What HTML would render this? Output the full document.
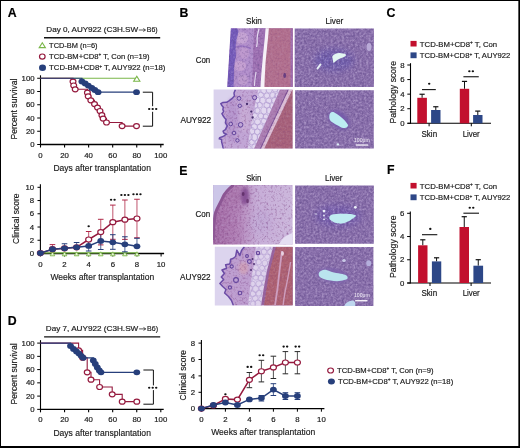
<!DOCTYPE html>
<html><head><meta charset="utf-8"><style>
html,body{margin:0;padding:0;background:#fff;}
body{width:520px;height:448px;overflow:hidden;position:relative;}
svg{position:absolute;left:0;top:0;filter:blur(0.3px);}
text{font-family:"Liberation Sans", sans-serif;stroke-width:0.18px;}
</style></head><body>
<svg width="520" height="448" viewBox="0 0 520 448">
<defs>
<filter id="dk" filterUnits="userSpaceOnUse" x="170" y="20" width="210" height="295" color-interpolation-filters="sRGB">
 <feTurbulence type="fractalNoise" baseFrequency="0.45" numOctaves="3" seed="4"/>
 <feColorMatrix type="matrix" values="0 0 0 0 0.37  0 0 0 0 0.28  0 0 0 0 0.53  1.7 0 0 0 -0.85"/>
 <feGaussianBlur stdDeviation="0.4"/>
</filter>
<filter id="lt" filterUnits="userSpaceOnUse" x="170" y="20" width="210" height="295" color-interpolation-filters="sRGB">
 <feTurbulence type="fractalNoise" baseFrequency="0.45" numOctaves="3" seed="4"/>
 <feColorMatrix type="matrix" values="0 0 0 0 0.76  0 0 0 0 0.69  0 0 0 0 0.85  -1.5 0 0 0 0.75"/>
 <feGaussianBlur stdDeviation="0.4"/>
</filter>
<filter id="dkp" filterUnits="userSpaceOnUse" x="170" y="20" width="210" height="295" color-interpolation-filters="sRGB">
 <feTurbulence type="fractalNoise" baseFrequency="0.45" numOctaves="3" seed="4"/>
 <feColorMatrix type="matrix" values="0 0 0 0 0.45  0 0 0 0 0.22  0 0 0 0 0.48  1.6 0 0 0 -0.8"/>
 <feGaussianBlur stdDeviation="0.4"/>
</filter>
<filter id="bl05" x="-50%" y="-50%" width="200%" height="200%" color-interpolation-filters="sRGB"><feGaussianBlur stdDeviation="0.4"/></filter>
<filter id="bl1" x="-50%" y="-50%" width="200%" height="200%" color-interpolation-filters="sRGB"><feGaussianBlur stdDeviation="0.7"/></filter>
<filter id="bl2" x="-50%" y="-50%" width="200%" height="200%" color-interpolation-filters="sRGB"><feGaussianBlur stdDeviation="1.4"/></filter>
<filter id="bl3" x="-50%" y="-50%" width="200%" height="200%" color-interpolation-filters="sRGB"><feGaussianBlur stdDeviation="3.5"/></filter>
</defs>
<rect x="0" y="0" width="520" height="448" fill="#fff"/>
<text x="7.80" y="17.00" font-size="12.3" font-weight="bold" fill="#000" stroke="#000" >A</text>
<text x="179.60" y="16.90" font-size="12.3" font-weight="bold" fill="#000" stroke="#000" >B</text>
<text x="386.40" y="17.20" font-size="12.3" font-weight="bold" fill="#000" stroke="#000" >C</text>
<text x="7.80" y="325.10" font-size="12.3" font-weight="bold" fill="#000" stroke="#000" >D</text>
<text x="179.20" y="174.70" font-size="12.3" font-weight="bold" fill="#000" stroke="#000" >E</text>
<text x="386.90" y="173.80" font-size="12.3" font-weight="bold" fill="#000" stroke="#000" >F</text>
<text x="46.30" y="32.40" font-size="8.1" textLength="91.73" lengthAdjust="spacingAndGlyphs" fill="#1a1a1a" stroke="#1a1a1a" >Day 0, AUY922 (C3H.SW</text>
<line x1="138.83" y1="30.00" x2="145.03" y2="30.00" stroke="#222" stroke-width="0.75" />
<path d="M143.23,28.50 L145.63,30.00 L143.23,31.50" fill="none" stroke="#222" stroke-width="0.75"/>
<text x="146.83" y="32.40" font-size="8.1" textLength="10.87" lengthAdjust="spacingAndGlyphs" fill="#1a1a1a" stroke="#1a1a1a" >B6)</text>
<line x1="44.00" y1="37.80" x2="160.20" y2="37.80" stroke="#111" stroke-width="1.4" />
<line x1="40.50" y1="75.30" x2="40.50" y2="145.00" stroke="#000" stroke-width="1.1" />
<line x1="40.00" y1="144.50" x2="163.70" y2="144.50" stroke="#000" stroke-width="1.3" />
<line x1="37.20" y1="78.25" x2="40.50" y2="78.25" stroke="#000" stroke-width="1.0" />
<text x="34.60" y="80.85" font-size="7.8" text-anchor="end" fill="#1a1a1a" stroke="#1a1a1a" >100</text>
<line x1="37.20" y1="91.50" x2="40.50" y2="91.50" stroke="#000" stroke-width="1.0" />
<text x="34.60" y="94.10" font-size="7.8" text-anchor="end" fill="#1a1a1a" stroke="#1a1a1a" >80</text>
<line x1="37.20" y1="104.75" x2="40.50" y2="104.75" stroke="#000" stroke-width="1.0" />
<text x="34.60" y="107.35" font-size="7.8" text-anchor="end" fill="#1a1a1a" stroke="#1a1a1a" >60</text>
<line x1="37.20" y1="118.00" x2="40.50" y2="118.00" stroke="#000" stroke-width="1.0" />
<text x="34.60" y="120.60" font-size="7.8" text-anchor="end" fill="#1a1a1a" stroke="#1a1a1a" >40</text>
<line x1="37.20" y1="131.25" x2="40.50" y2="131.25" stroke="#000" stroke-width="1.0" />
<text x="34.60" y="133.85" font-size="7.8" text-anchor="end" fill="#1a1a1a" stroke="#1a1a1a" >20</text>
<line x1="37.20" y1="144.50" x2="40.50" y2="144.50" stroke="#000" stroke-width="1.0" />
<text x="34.60" y="147.10" font-size="7.8" text-anchor="end" fill="#1a1a1a" stroke="#1a1a1a" >0</text>
<line x1="40.50" y1="144.50" x2="40.50" y2="147.50" stroke="#000" stroke-width="1.1" />
<text x="40.50" y="157.60" font-size="7.8" text-anchor="middle" fill="#1a1a1a" stroke="#1a1a1a" >0</text>
<line x1="64.56" y1="144.50" x2="64.56" y2="147.50" stroke="#000" stroke-width="1.1" />
<text x="64.56" y="157.60" font-size="7.8" text-anchor="middle" fill="#1a1a1a" stroke="#1a1a1a" >20</text>
<line x1="88.62" y1="144.50" x2="88.62" y2="147.50" stroke="#000" stroke-width="1.1" />
<text x="88.62" y="157.60" font-size="7.8" text-anchor="middle" fill="#1a1a1a" stroke="#1a1a1a" >40</text>
<line x1="112.68" y1="144.50" x2="112.68" y2="147.50" stroke="#000" stroke-width="1.1" />
<text x="112.68" y="157.60" font-size="7.8" text-anchor="middle" fill="#1a1a1a" stroke="#1a1a1a" >60</text>
<line x1="136.74" y1="144.50" x2="136.74" y2="147.50" stroke="#000" stroke-width="1.1" />
<text x="136.74" y="157.60" font-size="7.8" text-anchor="middle" fill="#1a1a1a" stroke="#1a1a1a" >80</text>
<line x1="160.80" y1="144.50" x2="160.80" y2="147.50" stroke="#000" stroke-width="1.1" />
<text x="160.80" y="157.60" font-size="7.8" text-anchor="middle" fill="#1a1a1a" stroke="#1a1a1a" >100</text>
<text x="53.40" y="171.20" font-size="9.9" textLength="97.50" lengthAdjust="spacingAndGlyphs" fill="#1a1a1a" stroke="#1a1a1a" >Days after transplantation</text>
<text x="16.60" y="109.10" font-size="9.9" text-anchor="middle" textLength="61.00" lengthAdjust="spacingAndGlyphs" fill="#1a1a1a" stroke="#1a1a1a" transform="rotate(-90 16.60 109.10)" >Percent survival</text>
<polygon points="39.20,47.60 45.40,47.60 42.30,42.80" fill="none" stroke="#7ab648" stroke-width="1.1"/>
<ellipse cx="42.30" cy="56.60" rx="2.8" ry="2.6" fill="#fff" stroke="#951a3e" stroke-width="1.2"/>
<ellipse cx="42.50" cy="67.70" rx="3.5" ry="3.2" fill="#273f7b" stroke="none" stroke-width="1.0"/>
<text x="49.10" y="47.80" font-size="8.1" textLength="48.50" lengthAdjust="spacingAndGlyphs" fill="#1a1a1a" stroke="#1a1a1a" >TCD-BM (n=6)</text>
<text x="49.10" y="58.90" font-size="8.1" textLength="100.40" lengthAdjust="spacingAndGlyphs" fill="#1a1a1a" stroke="#1a1a1a" >TCD-BM+CD8<tspan font-size="5" dy="-2.6">+</tspan><tspan dy="2.6"> </tspan>T, Con (n=19)</text>
<text x="49.10" y="70.30" font-size="8.1" textLength="116.30" lengthAdjust="spacingAndGlyphs" fill="#1a1a1a" stroke="#1a1a1a" >TCD-BM+CD8<tspan font-size="5" dy="-2.6">+</tspan><tspan dy="2.6"> </tspan>T, AUY922 (n=18)</text>
<line x1="40.50" y1="78.25" x2="136.80" y2="78.25" stroke="#7ab648" stroke-width="1.2" />
<polygon points="133.70,81.20 139.90,81.20 136.80,76.20" fill="#fff" stroke="#7ab648" stroke-width="1.1"/>
<polyline points="40.50,78.25 73.00,78.25 73.00,81.60 73.70,81.60 73.70,85.50 75.20,85.50 75.20,89.30 87.40,89.30 87.40,92.70 88.20,92.70 88.20,96.30 90.80,96.30 90.80,100.30 94.50,100.30 94.50,104.10 97.50,104.10 97.50,107.60 100.00,107.60 100.00,111.00 101.90,111.00 101.90,115.20 103.10,115.20 103.10,118.60 106.50,118.60 106.50,122.50 122.10,122.50 122.10,126.10 136.50,126.10" fill="none" stroke="#951a3e" stroke-width="1.1" stroke-linejoin="miter"/>
<ellipse cx="73.00" cy="81.60" rx="2.9" ry="2.5" fill="#fff" stroke="#951a3e" stroke-width="1.2"/>
<ellipse cx="73.70" cy="85.50" rx="2.9" ry="2.5" fill="#fff" stroke="#951a3e" stroke-width="1.2"/>
<ellipse cx="75.20" cy="89.30" rx="2.9" ry="2.5" fill="#fff" stroke="#951a3e" stroke-width="1.2"/>
<ellipse cx="87.40" cy="92.70" rx="2.9" ry="2.5" fill="#fff" stroke="#951a3e" stroke-width="1.2"/>
<ellipse cx="88.20" cy="96.30" rx="2.9" ry="2.5" fill="#fff" stroke="#951a3e" stroke-width="1.2"/>
<ellipse cx="90.80" cy="100.30" rx="2.9" ry="2.5" fill="#fff" stroke="#951a3e" stroke-width="1.2"/>
<ellipse cx="94.50" cy="104.10" rx="2.9" ry="2.5" fill="#fff" stroke="#951a3e" stroke-width="1.2"/>
<ellipse cx="97.50" cy="107.60" rx="2.9" ry="2.5" fill="#fff" stroke="#951a3e" stroke-width="1.2"/>
<ellipse cx="100.00" cy="111.00" rx="2.9" ry="2.5" fill="#fff" stroke="#951a3e" stroke-width="1.2"/>
<ellipse cx="101.90" cy="115.20" rx="2.9" ry="2.5" fill="#fff" stroke="#951a3e" stroke-width="1.2"/>
<ellipse cx="103.10" cy="118.60" rx="2.9" ry="2.5" fill="#fff" stroke="#951a3e" stroke-width="1.2"/>
<ellipse cx="106.50" cy="122.50" rx="2.9" ry="2.5" fill="#fff" stroke="#951a3e" stroke-width="1.2"/>
<ellipse cx="122.10" cy="126.10" rx="2.9" ry="2.5" fill="#fff" stroke="#951a3e" stroke-width="1.2"/>
<ellipse cx="136.50" cy="126.10" rx="2.9" ry="2.5" fill="#fff" stroke="#951a3e" stroke-width="1.2"/>
<polyline points="40.50,78.25 81.90,78.25 81.90,81.50 85.20,81.50 85.20,83.50 88.30,83.50 88.30,85.60 91.80,85.60 91.80,88.00 94.80,88.00 94.80,90.00 98.10,90.00 98.10,92.20 136.50,92.20" fill="none" stroke="#273f7b" stroke-width="1.2" stroke-linejoin="miter"/>
<ellipse cx="81.90" cy="81.50" rx="3.4" ry="2.9" fill="#273f7b" stroke="none" stroke-width="1.0"/>
<ellipse cx="85.20" cy="83.50" rx="3.4" ry="2.9" fill="#273f7b" stroke="none" stroke-width="1.0"/>
<ellipse cx="88.30" cy="85.60" rx="3.4" ry="2.9" fill="#273f7b" stroke="none" stroke-width="1.0"/>
<ellipse cx="91.80" cy="88.00" rx="3.4" ry="2.9" fill="#273f7b" stroke="none" stroke-width="1.0"/>
<ellipse cx="94.80" cy="90.00" rx="3.4" ry="2.9" fill="#273f7b" stroke="none" stroke-width="1.0"/>
<ellipse cx="98.10" cy="92.20" rx="3.4" ry="2.9" fill="#273f7b" stroke="none" stroke-width="1.0"/>
<ellipse cx="136.50" cy="92.20" rx="3.4" ry="2.9" fill="#273f7b" stroke="none" stroke-width="1.0"/>
<polyline points="142.80,92.20 152.60,92.20 152.60,106.20" fill="none" stroke="#111" stroke-width="1.0" stroke-linejoin="miter"/>
<polyline points="152.60,111.80 152.60,126.20 142.80,126.20" fill="none" stroke="#111" stroke-width="1.0" stroke-linejoin="miter"/>
<ellipse cx="149.20" cy="109.00" rx="1.2" ry="1.05" fill="#111"/>
<ellipse cx="152.70" cy="109.00" rx="1.2" ry="1.05" fill="#111"/>
<ellipse cx="156.20" cy="109.00" rx="1.2" ry="1.05" fill="#111"/>
<text x="45.80" y="331.30" font-size="8.1" textLength="92.47" lengthAdjust="spacingAndGlyphs" fill="#1a1a1a" stroke="#1a1a1a" >Day 7, AUY922 (C3H.SW</text>
<line x1="139.07" y1="328.90" x2="145.27" y2="328.90" stroke="#222" stroke-width="0.75" />
<path d="M143.47,327.40 L145.87,328.90 L143.47,330.40" fill="none" stroke="#222" stroke-width="0.75"/>
<text x="147.07" y="331.30" font-size="8.1" textLength="11.03" lengthAdjust="spacingAndGlyphs" fill="#1a1a1a" stroke="#1a1a1a" >B6)</text>
<line x1="44.10" y1="336.90" x2="160.20" y2="336.90" stroke="#111" stroke-width="1.4" />
<line x1="40.50" y1="340.15" x2="40.50" y2="409.85" stroke="#000" stroke-width="1.1" />
<line x1="40.00" y1="409.35" x2="163.70" y2="409.35" stroke="#000" stroke-width="1.3" />
<line x1="37.20" y1="343.10" x2="40.50" y2="343.10" stroke="#000" stroke-width="1.0" />
<text x="34.60" y="345.70" font-size="7.8" text-anchor="end" fill="#1a1a1a" stroke="#1a1a1a" >100</text>
<line x1="37.20" y1="356.35" x2="40.50" y2="356.35" stroke="#000" stroke-width="1.0" />
<text x="34.60" y="358.95" font-size="7.8" text-anchor="end" fill="#1a1a1a" stroke="#1a1a1a" >80</text>
<line x1="37.20" y1="369.60" x2="40.50" y2="369.60" stroke="#000" stroke-width="1.0" />
<text x="34.60" y="372.20" font-size="7.8" text-anchor="end" fill="#1a1a1a" stroke="#1a1a1a" >60</text>
<line x1="37.20" y1="382.85" x2="40.50" y2="382.85" stroke="#000" stroke-width="1.0" />
<text x="34.60" y="385.45" font-size="7.8" text-anchor="end" fill="#1a1a1a" stroke="#1a1a1a" >40</text>
<line x1="37.20" y1="396.10" x2="40.50" y2="396.10" stroke="#000" stroke-width="1.0" />
<text x="34.60" y="398.70" font-size="7.8" text-anchor="end" fill="#1a1a1a" stroke="#1a1a1a" >20</text>
<line x1="37.20" y1="409.35" x2="40.50" y2="409.35" stroke="#000" stroke-width="1.0" />
<text x="34.60" y="411.95" font-size="7.8" text-anchor="end" fill="#1a1a1a" stroke="#1a1a1a" >0</text>
<line x1="40.50" y1="409.35" x2="40.50" y2="412.35" stroke="#000" stroke-width="1.1" />
<text x="40.50" y="422.45" font-size="7.8" text-anchor="middle" fill="#1a1a1a" stroke="#1a1a1a" >0</text>
<line x1="64.56" y1="409.35" x2="64.56" y2="412.35" stroke="#000" stroke-width="1.1" />
<text x="64.56" y="422.45" font-size="7.8" text-anchor="middle" fill="#1a1a1a" stroke="#1a1a1a" >20</text>
<line x1="88.62" y1="409.35" x2="88.62" y2="412.35" stroke="#000" stroke-width="1.1" />
<text x="88.62" y="422.45" font-size="7.8" text-anchor="middle" fill="#1a1a1a" stroke="#1a1a1a" >40</text>
<line x1="112.68" y1="409.35" x2="112.68" y2="412.35" stroke="#000" stroke-width="1.1" />
<text x="112.68" y="422.45" font-size="7.8" text-anchor="middle" fill="#1a1a1a" stroke="#1a1a1a" >60</text>
<line x1="136.74" y1="409.35" x2="136.74" y2="412.35" stroke="#000" stroke-width="1.1" />
<text x="136.74" y="422.45" font-size="7.8" text-anchor="middle" fill="#1a1a1a" stroke="#1a1a1a" >80</text>
<line x1="160.80" y1="409.35" x2="160.80" y2="412.35" stroke="#000" stroke-width="1.1" />
<text x="160.80" y="422.45" font-size="7.8" text-anchor="middle" fill="#1a1a1a" stroke="#1a1a1a" >100</text>
<text x="53.40" y="436.05" font-size="9.9" textLength="97.50" lengthAdjust="spacingAndGlyphs" fill="#1a1a1a" stroke="#1a1a1a" >Days after transplantation</text>
<text x="16.60" y="373.95" font-size="9.9" text-anchor="middle" textLength="61.00" lengthAdjust="spacingAndGlyphs" fill="#1a1a1a" stroke="#1a1a1a" transform="rotate(-90 16.60 373.95)" >Percent survival</text>
<polyline points="40.50,343.10 78.60,343.10 78.60,350.41 82.60,350.41 82.60,357.72 87.20,357.72 87.20,372.34 91.00,372.34 91.00,379.71 99.60,379.71 99.60,387.02 112.20,387.02 112.20,394.33 122.20,394.33 122.20,401.64 136.80,401.64" fill="none" stroke="#951a3e" stroke-width="1.1" stroke-linejoin="miter"/>
<ellipse cx="78.60" cy="350.41" rx="2.9" ry="2.5" fill="#fff" stroke="#951a3e" stroke-width="1.2"/>
<ellipse cx="82.60" cy="357.72" rx="2.9" ry="2.5" fill="#fff" stroke="#951a3e" stroke-width="1.2"/>
<ellipse cx="87.20" cy="372.34" rx="2.9" ry="2.5" fill="#fff" stroke="#951a3e" stroke-width="1.2"/>
<ellipse cx="91.00" cy="379.71" rx="2.9" ry="2.5" fill="#fff" stroke="#951a3e" stroke-width="1.2"/>
<ellipse cx="99.60" cy="387.02" rx="2.9" ry="2.5" fill="#fff" stroke="#951a3e" stroke-width="1.2"/>
<ellipse cx="112.20" cy="394.33" rx="2.9" ry="2.5" fill="#fff" stroke="#951a3e" stroke-width="1.2"/>
<ellipse cx="122.20" cy="401.64" rx="2.9" ry="2.5" fill="#fff" stroke="#951a3e" stroke-width="1.2"/>
<ellipse cx="136.80" cy="401.64" rx="2.9" ry="2.5" fill="#fff" stroke="#951a3e" stroke-width="1.2"/>
<polyline points="40.50,343.10 70.50,343.10 70.50,346.00 73.50,346.00 73.50,349.00 76.50,349.00 76.50,351.50 79.00,351.50 79.00,353.60 81.20,353.60 81.20,355.80 83.20,355.80 83.20,357.80 93.30,357.80 93.30,360.50 95.30,360.50 95.30,364.00 97.30,364.00 97.30,367.50 99.30,367.50 99.30,370.50 101.00,370.50 101.00,372.30 136.80,372.30" fill="none" stroke="#273f7b" stroke-width="1.2" stroke-linejoin="miter"/>
<ellipse cx="70.50" cy="346.00" rx="3.4" ry="2.9" fill="#273f7b" stroke="none" stroke-width="1.0"/>
<ellipse cx="73.50" cy="349.00" rx="3.4" ry="2.9" fill="#273f7b" stroke="none" stroke-width="1.0"/>
<ellipse cx="76.50" cy="351.50" rx="3.4" ry="2.9" fill="#273f7b" stroke="none" stroke-width="1.0"/>
<ellipse cx="79.00" cy="353.60" rx="3.4" ry="2.9" fill="#273f7b" stroke="none" stroke-width="1.0"/>
<ellipse cx="81.20" cy="355.80" rx="3.4" ry="2.9" fill="#273f7b" stroke="none" stroke-width="1.0"/>
<ellipse cx="83.20" cy="357.80" rx="3.4" ry="2.9" fill="#273f7b" stroke="none" stroke-width="1.0"/>
<ellipse cx="93.30" cy="360.50" rx="3.4" ry="2.9" fill="#273f7b" stroke="none" stroke-width="1.0"/>
<ellipse cx="95.30" cy="364.00" rx="3.4" ry="2.9" fill="#273f7b" stroke="none" stroke-width="1.0"/>
<ellipse cx="97.30" cy="367.50" rx="3.4" ry="2.9" fill="#273f7b" stroke="none" stroke-width="1.0"/>
<ellipse cx="99.30" cy="370.50" rx="3.4" ry="2.9" fill="#273f7b" stroke="none" stroke-width="1.0"/>
<ellipse cx="101.00" cy="372.30" rx="3.4" ry="2.9" fill="#273f7b" stroke="none" stroke-width="1.0"/>
<ellipse cx="136.80" cy="372.30" rx="3.4" ry="2.9" fill="#273f7b" stroke="none" stroke-width="1.0"/>
<polyline points="143.40,370.00 153.40,370.00 153.40,385.40" fill="none" stroke="#111" stroke-width="1.0" stroke-linejoin="miter"/>
<polyline points="153.40,390.10 153.40,404.20 143.40,404.20" fill="none" stroke="#111" stroke-width="1.0" stroke-linejoin="miter"/>
<ellipse cx="149.20" cy="387.80" rx="1.2" ry="1.05" fill="#111"/>
<ellipse cx="152.70" cy="387.80" rx="1.2" ry="1.05" fill="#111"/>
<ellipse cx="156.20" cy="387.80" rx="1.2" ry="1.05" fill="#111"/>
<line x1="40.40" y1="184.30" x2="40.40" y2="254.00" stroke="#000" stroke-width="1.1" />
<line x1="39.90" y1="253.50" x2="164.10" y2="253.50" stroke="#000" stroke-width="1.3" />
<line x1="37.50" y1="253.50" x2="40.40" y2="253.50" stroke="#000" stroke-width="1.0" />
<text x="34.20" y="256.10" font-size="7.8" text-anchor="end" fill="#1a1a1a" stroke="#1a1a1a" >0</text>
<line x1="37.50" y1="240.26" x2="40.40" y2="240.26" stroke="#000" stroke-width="1.0" />
<text x="34.20" y="242.86" font-size="7.8" text-anchor="end" fill="#1a1a1a" stroke="#1a1a1a" >2</text>
<line x1="37.50" y1="227.02" x2="40.40" y2="227.02" stroke="#000" stroke-width="1.0" />
<text x="34.20" y="229.62" font-size="7.8" text-anchor="end" fill="#1a1a1a" stroke="#1a1a1a" >4</text>
<line x1="37.50" y1="213.78" x2="40.40" y2="213.78" stroke="#000" stroke-width="1.0" />
<text x="34.20" y="216.38" font-size="7.8" text-anchor="end" fill="#1a1a1a" stroke="#1a1a1a" >6</text>
<line x1="37.50" y1="200.54" x2="40.40" y2="200.54" stroke="#000" stroke-width="1.0" />
<text x="34.20" y="203.14" font-size="7.8" text-anchor="end" fill="#1a1a1a" stroke="#1a1a1a" >8</text>
<line x1="37.50" y1="187.30" x2="40.40" y2="187.30" stroke="#000" stroke-width="1.0" />
<text x="34.20" y="189.90" font-size="7.8" text-anchor="end" fill="#1a1a1a" stroke="#1a1a1a" >10</text>
<line x1="40.40" y1="253.50" x2="40.40" y2="256.50" stroke="#000" stroke-width="1.0" />
<text x="40.40" y="266.50" font-size="7.8" text-anchor="middle" fill="#1a1a1a" stroke="#1a1a1a" >0</text>
<line x1="64.54" y1="253.50" x2="64.54" y2="256.50" stroke="#000" stroke-width="1.0" />
<text x="64.54" y="266.50" font-size="7.8" text-anchor="middle" fill="#1a1a1a" stroke="#1a1a1a" >2</text>
<line x1="88.68" y1="253.50" x2="88.68" y2="256.50" stroke="#000" stroke-width="1.0" />
<text x="88.68" y="266.50" font-size="7.8" text-anchor="middle" fill="#1a1a1a" stroke="#1a1a1a" >4</text>
<line x1="112.82" y1="253.50" x2="112.82" y2="256.50" stroke="#000" stroke-width="1.0" />
<text x="112.82" y="266.50" font-size="7.8" text-anchor="middle" fill="#1a1a1a" stroke="#1a1a1a" >6</text>
<line x1="136.96" y1="253.50" x2="136.96" y2="256.50" stroke="#000" stroke-width="1.0" />
<text x="136.96" y="266.50" font-size="7.8" text-anchor="middle" fill="#1a1a1a" stroke="#1a1a1a" >8</text>
<line x1="161.10" y1="253.50" x2="161.10" y2="256.50" stroke="#000" stroke-width="1.0" />
<text x="161.10" y="266.50" font-size="7.8" text-anchor="middle" fill="#1a1a1a" stroke="#1a1a1a" >10</text>
<text x="50.40" y="279.90" font-size="9.9" textLength="103.80" lengthAdjust="spacingAndGlyphs" fill="#1a1a1a" stroke="#1a1a1a" >Weeks after transplantation</text>
<text x="19.20" y="218.65" font-size="9.9" text-anchor="middle" textLength="50.50" lengthAdjust="spacingAndGlyphs" fill="#1a1a1a" stroke="#1a1a1a" transform="rotate(-90 19.20 218.65)" >Clinical score</text>
<line x1="40.40" y1="252.90" x2="136.96" y2="252.90" stroke="#7ab648" stroke-width="1.3" />
<polygon points="50.17,255.80 54.77,255.80 52.47,251.80" fill="#e8f4d8" stroke="#7ab648" stroke-width="0.9"/>
<polygon points="62.24,255.80 66.84,255.80 64.54,251.80" fill="#e8f4d8" stroke="#7ab648" stroke-width="0.9"/>
<polygon points="74.31,255.80 78.91,255.80 76.61,251.80" fill="#e8f4d8" stroke="#7ab648" stroke-width="0.9"/>
<polygon points="86.38,255.80 90.98,255.80 88.68,251.80" fill="#e8f4d8" stroke="#7ab648" stroke-width="0.9"/>
<polygon points="98.45,255.80 103.05,255.80 100.75,251.80" fill="#e8f4d8" stroke="#7ab648" stroke-width="0.9"/>
<polygon points="110.52,255.80 115.12,255.80 112.82,251.80" fill="#e8f4d8" stroke="#7ab648" stroke-width="0.9"/>
<polygon points="122.59,255.80 127.19,255.80 124.89,251.80" fill="#e8f4d8" stroke="#7ab648" stroke-width="0.9"/>
<polygon points="134.66,255.80 139.26,255.80 136.96,251.80" fill="#e8f4d8" stroke="#7ab648" stroke-width="0.9"/>
<line x1="52.47" y1="249.20" x2="52.47" y2="244.60" stroke="#b02848" stroke-width="0.8" />
<line x1="49.67" y1="244.60" x2="55.27" y2="244.60" stroke="#b02848" stroke-width="1.0" />
<line x1="88.68" y1="239.50" x2="88.68" y2="231.50" stroke="#b02848" stroke-width="0.8" />
<line x1="85.88" y1="231.50" x2="91.48" y2="231.50" stroke="#b02848" stroke-width="1.0" />
<line x1="88.68" y1="239.50" x2="88.68" y2="247.50" stroke="#b02848" stroke-width="0.8" />
<line x1="85.88" y1="247.50" x2="91.48" y2="247.50" stroke="#b02848" stroke-width="1.0" />
<line x1="100.75" y1="232.10" x2="100.75" y2="219.30" stroke="#b02848" stroke-width="0.8" />
<line x1="97.95" y1="219.30" x2="103.55" y2="219.30" stroke="#b02848" stroke-width="1.0" />
<line x1="100.75" y1="232.10" x2="100.75" y2="244.90" stroke="#b02848" stroke-width="0.8" />
<line x1="97.95" y1="244.90" x2="103.55" y2="244.90" stroke="#b02848" stroke-width="1.0" />
<line x1="112.82" y1="222.20" x2="112.82" y2="205.10" stroke="#b02848" stroke-width="0.8" />
<line x1="110.02" y1="205.10" x2="115.62" y2="205.10" stroke="#b02848" stroke-width="1.0" />
<line x1="112.82" y1="222.20" x2="112.82" y2="239.30" stroke="#b02848" stroke-width="0.8" />
<line x1="110.02" y1="239.30" x2="115.62" y2="239.30" stroke="#b02848" stroke-width="1.0" />
<line x1="124.89" y1="219.70" x2="124.89" y2="200.00" stroke="#b02848" stroke-width="0.8" />
<line x1="122.09" y1="200.00" x2="127.69" y2="200.00" stroke="#b02848" stroke-width="1.0" />
<line x1="124.89" y1="219.70" x2="124.89" y2="239.40" stroke="#b02848" stroke-width="0.8" />
<line x1="122.09" y1="239.40" x2="127.69" y2="239.40" stroke="#b02848" stroke-width="1.0" />
<line x1="136.96" y1="218.50" x2="136.96" y2="199.25" stroke="#b02848" stroke-width="0.8" />
<line x1="134.16" y1="199.25" x2="139.76" y2="199.25" stroke="#b02848" stroke-width="1.0" />
<line x1="136.96" y1="218.50" x2="136.96" y2="237.75" stroke="#b02848" stroke-width="0.8" />
<line x1="134.16" y1="237.75" x2="139.76" y2="237.75" stroke="#b02848" stroke-width="1.0" />
<line x1="64.54" y1="248.30" x2="64.54" y2="243.75" stroke="#273f7b" stroke-width="0.8" />
<line x1="61.74" y1="243.75" x2="67.34" y2="243.75" stroke="#273f7b" stroke-width="1.0" />
<line x1="76.61" y1="247.30" x2="76.61" y2="242.50" stroke="#273f7b" stroke-width="0.8" />
<line x1="73.81" y1="242.50" x2="79.41" y2="242.50" stroke="#273f7b" stroke-width="1.0" />
<line x1="88.68" y1="245.90" x2="88.68" y2="240.80" stroke="#273f7b" stroke-width="0.8" />
<line x1="85.88" y1="240.80" x2="91.48" y2="240.80" stroke="#273f7b" stroke-width="1.0" />
<line x1="88.68" y1="245.90" x2="88.68" y2="251.00" stroke="#273f7b" stroke-width="0.8" />
<line x1="85.88" y1="251.00" x2="91.48" y2="251.00" stroke="#273f7b" stroke-width="1.0" />
<line x1="100.75" y1="240.90" x2="100.75" y2="232.30" stroke="#273f7b" stroke-width="0.8" />
<line x1="97.95" y1="232.30" x2="103.55" y2="232.30" stroke="#273f7b" stroke-width="1.0" />
<line x1="100.75" y1="240.90" x2="100.75" y2="249.50" stroke="#273f7b" stroke-width="0.8" />
<line x1="97.95" y1="249.50" x2="103.55" y2="249.50" stroke="#273f7b" stroke-width="1.0" />
<line x1="112.82" y1="242.30" x2="112.82" y2="234.70" stroke="#273f7b" stroke-width="0.8" />
<line x1="110.02" y1="234.70" x2="115.62" y2="234.70" stroke="#273f7b" stroke-width="1.0" />
<line x1="112.82" y1="242.30" x2="112.82" y2="249.30" stroke="#273f7b" stroke-width="0.8" />
<line x1="110.02" y1="249.30" x2="115.62" y2="249.30" stroke="#273f7b" stroke-width="1.0" />
<line x1="124.89" y1="244.30" x2="124.89" y2="236.75" stroke="#273f7b" stroke-width="0.8" />
<line x1="122.09" y1="236.75" x2="127.69" y2="236.75" stroke="#273f7b" stroke-width="1.0" />
<line x1="124.89" y1="244.30" x2="124.89" y2="251.80" stroke="#273f7b" stroke-width="0.8" />
<line x1="122.09" y1="251.80" x2="127.69" y2="251.80" stroke="#273f7b" stroke-width="1.0" />
<line x1="136.96" y1="246.30" x2="136.96" y2="238.30" stroke="#273f7b" stroke-width="0.8" />
<line x1="134.16" y1="238.30" x2="139.76" y2="238.30" stroke="#273f7b" stroke-width="1.0" />
<polyline points="40.40,253.10 52.47,249.20 64.54,248.30 76.61,247.30 88.68,239.50 100.75,232.10 112.82,222.20 124.89,219.70 136.96,218.50" fill="none" stroke="#951a3e" stroke-width="1.5" stroke-linejoin="miter"/>
<ellipse cx="40.40" cy="253.10" rx="3.0" ry="2.5" fill="#fff" stroke="#951a3e" stroke-width="1.2"/>
<ellipse cx="52.47" cy="249.20" rx="3.0" ry="2.5" fill="#fff" stroke="#951a3e" stroke-width="1.2"/>
<ellipse cx="64.54" cy="248.30" rx="3.0" ry="2.5" fill="#fff" stroke="#951a3e" stroke-width="1.2"/>
<ellipse cx="76.61" cy="247.30" rx="3.0" ry="2.5" fill="#fff" stroke="#951a3e" stroke-width="1.2"/>
<ellipse cx="88.68" cy="239.50" rx="3.0" ry="2.5" fill="#fff" stroke="#951a3e" stroke-width="1.2"/>
<ellipse cx="100.75" cy="232.10" rx="3.0" ry="2.5" fill="#fff" stroke="#951a3e" stroke-width="1.2"/>
<ellipse cx="112.82" cy="222.20" rx="3.0" ry="2.5" fill="#fff" stroke="#951a3e" stroke-width="1.2"/>
<ellipse cx="124.89" cy="219.70" rx="3.0" ry="2.5" fill="#fff" stroke="#951a3e" stroke-width="1.2"/>
<ellipse cx="136.96" cy="218.50" rx="3.0" ry="2.5" fill="#fff" stroke="#951a3e" stroke-width="1.2"/>
<polyline points="40.40,253.10 52.47,249.20 64.54,248.30 76.61,247.30 88.68,245.90 100.75,240.90 112.82,242.30 124.89,244.30 136.96,246.30" fill="none" stroke="#273f7b" stroke-width="1.5" stroke-linejoin="miter"/>
<ellipse cx="40.40" cy="253.10" rx="3.4" ry="2.9" fill="#273f7b" stroke="none" stroke-width="1.0"/>
<ellipse cx="52.47" cy="249.20" rx="3.4" ry="2.9" fill="#273f7b" stroke="none" stroke-width="1.0"/>
<ellipse cx="64.54" cy="248.30" rx="3.4" ry="2.9" fill="#273f7b" stroke="none" stroke-width="1.0"/>
<ellipse cx="76.61" cy="247.30" rx="3.4" ry="2.9" fill="#273f7b" stroke="none" stroke-width="1.0"/>
<ellipse cx="88.68" cy="245.90" rx="3.4" ry="2.9" fill="#273f7b" stroke="none" stroke-width="1.0"/>
<ellipse cx="100.75" cy="240.90" rx="3.4" ry="2.9" fill="#273f7b" stroke="none" stroke-width="1.0"/>
<ellipse cx="112.82" cy="242.30" rx="3.4" ry="2.9" fill="#273f7b" stroke="none" stroke-width="1.0"/>
<ellipse cx="124.89" cy="244.30" rx="3.4" ry="2.9" fill="#273f7b" stroke="none" stroke-width="1.0"/>
<ellipse cx="136.96" cy="246.30" rx="3.4" ry="2.9" fill="#273f7b" stroke="none" stroke-width="1.0"/>
<ellipse cx="88.68" cy="226.30" rx="1.2" ry="1.05" fill="#111"/>
<ellipse cx="111.07" cy="199.70" rx="1.2" ry="1.05" fill="#111"/>
<ellipse cx="114.57" cy="199.70" rx="1.2" ry="1.05" fill="#111"/>
<ellipse cx="121.39" cy="195.00" rx="1.2" ry="1.05" fill="#111"/>
<ellipse cx="124.89" cy="195.00" rx="1.2" ry="1.05" fill="#111"/>
<ellipse cx="128.39" cy="195.00" rx="1.2" ry="1.05" fill="#111"/>
<ellipse cx="133.46" cy="194.30" rx="1.2" ry="1.05" fill="#111"/>
<ellipse cx="136.96" cy="194.30" rx="1.2" ry="1.05" fill="#111"/>
<ellipse cx="140.46" cy="194.30" rx="1.2" ry="1.05" fill="#111"/>
<line x1="201.40" y1="340.10" x2="201.40" y2="409.20" stroke="#000" stroke-width="1.1" />
<line x1="200.90" y1="408.70" x2="324.40" y2="408.70" stroke="#000" stroke-width="1.3" />
<line x1="198.50" y1="408.70" x2="201.40" y2="408.70" stroke="#000" stroke-width="1.0" />
<text x="195.20" y="411.30" font-size="7.8" text-anchor="end" fill="#1a1a1a" stroke="#1a1a1a" >0</text>
<line x1="198.50" y1="392.30" x2="201.40" y2="392.30" stroke="#000" stroke-width="1.0" />
<text x="195.20" y="394.90" font-size="7.8" text-anchor="end" fill="#1a1a1a" stroke="#1a1a1a" >2</text>
<line x1="198.50" y1="375.90" x2="201.40" y2="375.90" stroke="#000" stroke-width="1.0" />
<text x="195.20" y="378.50" font-size="7.8" text-anchor="end" fill="#1a1a1a" stroke="#1a1a1a" >4</text>
<line x1="198.50" y1="359.50" x2="201.40" y2="359.50" stroke="#000" stroke-width="1.0" />
<text x="195.20" y="362.10" font-size="7.8" text-anchor="end" fill="#1a1a1a" stroke="#1a1a1a" >6</text>
<line x1="198.50" y1="343.10" x2="201.40" y2="343.10" stroke="#000" stroke-width="1.0" />
<text x="195.20" y="345.70" font-size="7.8" text-anchor="end" fill="#1a1a1a" stroke="#1a1a1a" >8</text>
<line x1="201.40" y1="408.70" x2="201.40" y2="411.70" stroke="#000" stroke-width="1.0" />
<text x="201.40" y="422.20" font-size="7.8" text-anchor="middle" fill="#1a1a1a" stroke="#1a1a1a" >0</text>
<line x1="225.40" y1="408.70" x2="225.40" y2="411.70" stroke="#000" stroke-width="1.0" />
<text x="225.40" y="422.20" font-size="7.8" text-anchor="middle" fill="#1a1a1a" stroke="#1a1a1a" >2</text>
<line x1="249.40" y1="408.70" x2="249.40" y2="411.70" stroke="#000" stroke-width="1.0" />
<text x="249.40" y="422.20" font-size="7.8" text-anchor="middle" fill="#1a1a1a" stroke="#1a1a1a" >4</text>
<line x1="273.40" y1="408.70" x2="273.40" y2="411.70" stroke="#000" stroke-width="1.0" />
<text x="273.40" y="422.20" font-size="7.8" text-anchor="middle" fill="#1a1a1a" stroke="#1a1a1a" >6</text>
<line x1="297.40" y1="408.70" x2="297.40" y2="411.70" stroke="#000" stroke-width="1.0" />
<text x="297.40" y="422.20" font-size="7.8" text-anchor="middle" fill="#1a1a1a" stroke="#1a1a1a" >8</text>
<line x1="321.40" y1="408.70" x2="321.40" y2="411.70" stroke="#000" stroke-width="1.0" />
<text x="321.40" y="422.20" font-size="7.8" text-anchor="middle" fill="#1a1a1a" stroke="#1a1a1a" >10</text>
<text x="211.20" y="435.30" font-size="9.9" textLength="104.00" lengthAdjust="spacingAndGlyphs" fill="#1a1a1a" stroke="#1a1a1a" >Weeks after transplantation</text>
<text x="185.60" y="375.20" font-size="9.9" text-anchor="middle" textLength="50.50" lengthAdjust="spacingAndGlyphs" fill="#1a1a1a" stroke="#1a1a1a" transform="rotate(-90 185.60 375.20)" >Clinical score</text>
<line x1="249.40" y1="379.80" x2="249.40" y2="372.50" stroke="#2a2a2a" stroke-width="0.8" />
<line x1="246.60" y1="372.50" x2="252.20" y2="372.50" stroke="#2a2a2a" stroke-width="1.0" />
<line x1="249.40" y1="379.80" x2="249.40" y2="387.70" stroke="#2a2a2a" stroke-width="0.8" />
<line x1="246.60" y1="387.70" x2="252.20" y2="387.70" stroke="#2a2a2a" stroke-width="1.0" />
<line x1="261.40" y1="371.25" x2="261.40" y2="360.30" stroke="#2a2a2a" stroke-width="0.8" />
<line x1="258.60" y1="360.30" x2="264.20" y2="360.30" stroke="#2a2a2a" stroke-width="1.0" />
<line x1="261.40" y1="371.25" x2="261.40" y2="381.90" stroke="#2a2a2a" stroke-width="0.8" />
<line x1="258.60" y1="381.90" x2="264.20" y2="381.90" stroke="#2a2a2a" stroke-width="1.0" />
<line x1="273.40" y1="367.40" x2="273.40" y2="356.20" stroke="#2a2a2a" stroke-width="0.8" />
<line x1="270.60" y1="356.20" x2="276.20" y2="356.20" stroke="#2a2a2a" stroke-width="1.0" />
<line x1="273.40" y1="367.40" x2="273.40" y2="378.50" stroke="#2a2a2a" stroke-width="0.8" />
<line x1="270.60" y1="378.50" x2="276.20" y2="378.50" stroke="#2a2a2a" stroke-width="1.0" />
<line x1="285.40" y1="362.50" x2="285.40" y2="351.60" stroke="#2a2a2a" stroke-width="0.8" />
<line x1="282.60" y1="351.60" x2="288.20" y2="351.60" stroke="#2a2a2a" stroke-width="1.0" />
<line x1="285.40" y1="362.50" x2="285.40" y2="373.80" stroke="#2a2a2a" stroke-width="0.8" />
<line x1="282.60" y1="373.80" x2="288.20" y2="373.80" stroke="#2a2a2a" stroke-width="1.0" />
<line x1="297.40" y1="362.50" x2="297.40" y2="351.60" stroke="#2a2a2a" stroke-width="0.8" />
<line x1="294.60" y1="351.60" x2="300.20" y2="351.60" stroke="#2a2a2a" stroke-width="1.0" />
<line x1="297.40" y1="362.50" x2="297.40" y2="373.80" stroke="#2a2a2a" stroke-width="0.8" />
<line x1="294.60" y1="373.80" x2="300.20" y2="373.80" stroke="#2a2a2a" stroke-width="1.0" />
<line x1="261.40" y1="398.10" x2="261.40" y2="395.50" stroke="#273f7b" stroke-width="0.8" />
<line x1="258.60" y1="395.50" x2="264.20" y2="395.50" stroke="#273f7b" stroke-width="1.0" />
<line x1="261.40" y1="398.10" x2="261.40" y2="401.00" stroke="#273f7b" stroke-width="0.8" />
<line x1="258.60" y1="401.00" x2="264.20" y2="401.00" stroke="#273f7b" stroke-width="1.0" />
<line x1="273.40" y1="389.60" x2="273.40" y2="383.70" stroke="#273f7b" stroke-width="0.8" />
<line x1="270.60" y1="383.70" x2="276.20" y2="383.70" stroke="#273f7b" stroke-width="1.0" />
<line x1="273.40" y1="389.60" x2="273.40" y2="395.50" stroke="#273f7b" stroke-width="0.8" />
<line x1="270.60" y1="395.50" x2="276.20" y2="395.50" stroke="#273f7b" stroke-width="1.0" />
<line x1="285.40" y1="396.00" x2="285.40" y2="392.70" stroke="#273f7b" stroke-width="0.8" />
<line x1="282.60" y1="392.70" x2="288.20" y2="392.70" stroke="#273f7b" stroke-width="1.0" />
<line x1="285.40" y1="396.00" x2="285.40" y2="399.50" stroke="#273f7b" stroke-width="0.8" />
<line x1="282.60" y1="399.50" x2="288.20" y2="399.50" stroke="#273f7b" stroke-width="1.0" />
<line x1="297.40" y1="396.00" x2="297.40" y2="392.70" stroke="#273f7b" stroke-width="0.8" />
<line x1="294.60" y1="392.70" x2="300.20" y2="392.70" stroke="#273f7b" stroke-width="1.0" />
<line x1="297.40" y1="396.00" x2="297.40" y2="399.50" stroke="#273f7b" stroke-width="0.8" />
<line x1="294.60" y1="399.50" x2="300.20" y2="399.50" stroke="#273f7b" stroke-width="1.0" />
<polyline points="201.40,408.60 213.40,405.50 225.40,398.90 237.40,399.60 249.40,379.80 261.40,371.25 273.40,367.40 285.40,362.50 297.40,362.50" fill="none" stroke="#951a3e" stroke-width="1.5" stroke-linejoin="miter"/>
<ellipse cx="201.40" cy="408.60" rx="3.0" ry="2.5" fill="#fff" stroke="#951a3e" stroke-width="1.2"/>
<ellipse cx="213.40" cy="405.50" rx="3.0" ry="2.5" fill="#fff" stroke="#951a3e" stroke-width="1.2"/>
<ellipse cx="225.40" cy="398.90" rx="3.0" ry="2.5" fill="#fff" stroke="#951a3e" stroke-width="1.2"/>
<ellipse cx="237.40" cy="399.60" rx="3.0" ry="2.5" fill="#fff" stroke="#951a3e" stroke-width="1.2"/>
<ellipse cx="249.40" cy="379.80" rx="3.0" ry="2.5" fill="#fff" stroke="#951a3e" stroke-width="1.2"/>
<ellipse cx="261.40" cy="371.25" rx="3.0" ry="2.5" fill="#fff" stroke="#951a3e" stroke-width="1.2"/>
<ellipse cx="273.40" cy="367.40" rx="3.0" ry="2.5" fill="#fff" stroke="#951a3e" stroke-width="1.2"/>
<ellipse cx="285.40" cy="362.50" rx="3.0" ry="2.5" fill="#fff" stroke="#951a3e" stroke-width="1.2"/>
<ellipse cx="297.40" cy="362.50" rx="3.0" ry="2.5" fill="#fff" stroke="#951a3e" stroke-width="1.2"/>
<polyline points="201.40,408.60 213.40,405.00 225.40,402.50 237.40,405.00 249.40,399.40 261.40,398.10 273.40,389.60 285.40,396.00 297.40,396.00" fill="none" stroke="#273f7b" stroke-width="1.5" stroke-linejoin="miter"/>
<ellipse cx="201.40" cy="408.60" rx="3.4" ry="2.9" fill="#273f7b" stroke="none" stroke-width="1.0"/>
<ellipse cx="213.40" cy="405.00" rx="3.4" ry="2.9" fill="#273f7b" stroke="none" stroke-width="1.0"/>
<ellipse cx="225.40" cy="402.50" rx="3.4" ry="2.9" fill="#273f7b" stroke="none" stroke-width="1.0"/>
<ellipse cx="237.40" cy="405.00" rx="3.4" ry="2.9" fill="#273f7b" stroke="none" stroke-width="1.0"/>
<ellipse cx="249.40" cy="399.40" rx="3.4" ry="2.9" fill="#273f7b" stroke="none" stroke-width="1.0"/>
<ellipse cx="261.40" cy="398.10" rx="3.4" ry="2.9" fill="#273f7b" stroke="none" stroke-width="1.0"/>
<ellipse cx="273.40" cy="389.60" rx="3.4" ry="2.9" fill="#273f7b" stroke="none" stroke-width="1.0"/>
<ellipse cx="285.40" cy="396.00" rx="3.4" ry="2.9" fill="#273f7b" stroke="none" stroke-width="1.0"/>
<ellipse cx="297.40" cy="396.00" rx="3.4" ry="2.9" fill="#273f7b" stroke="none" stroke-width="1.0"/>
<ellipse cx="225.40" cy="394.30" rx="1.2" ry="1.05" fill="#111"/>
<ellipse cx="247.65" cy="366.90" rx="1.2" ry="1.05" fill="#111"/>
<ellipse cx="251.15" cy="366.90" rx="1.2" ry="1.05" fill="#111"/>
<ellipse cx="259.65" cy="355.20" rx="1.2" ry="1.05" fill="#111"/>
<ellipse cx="263.15" cy="355.20" rx="1.2" ry="1.05" fill="#111"/>
<ellipse cx="283.65" cy="346.60" rx="1.2" ry="1.05" fill="#111"/>
<ellipse cx="287.15" cy="346.60" rx="1.2" ry="1.05" fill="#111"/>
<ellipse cx="295.65" cy="346.60" rx="1.2" ry="1.05" fill="#111"/>
<ellipse cx="299.15" cy="346.60" rx="1.2" ry="1.05" fill="#111"/>
<ellipse cx="330.60" cy="370.50" rx="2.9" ry="2.5" fill="#fff" stroke="#951a3e" stroke-width="1.2"/>
<ellipse cx="331.40" cy="381.50" rx="3.5" ry="3.0" fill="#273f7b" stroke="none" stroke-width="1.0"/>
<text x="337.00" y="372.60" font-size="8.1" textLength="96.50" lengthAdjust="spacingAndGlyphs" fill="#1a1a1a" stroke="#1a1a1a" >TCD-BM+CD8<tspan font-size="5" dy="-2.6">+</tspan><tspan dy="2.6"> </tspan>T, Con (n=9)</text>
<text x="338.00" y="383.60" font-size="8.1" textLength="115.20" lengthAdjust="spacingAndGlyphs" fill="#1a1a1a" stroke="#1a1a1a" >TCD-BM+CD8<tspan font-size="5" dy="-2.6">+</tspan><tspan dy="2.6"> </tspan>T, AUY922 (n=18)</text>
<line x1="410.50" y1="63.20" x2="410.50" y2="123.80" stroke="#000" stroke-width="1.1" />
<line x1="407.50" y1="123.30" x2="491.00" y2="123.30" stroke="#000" stroke-width="1.1" />
<line x1="407.30" y1="123.30" x2="410.50" y2="123.30" stroke="#000" stroke-width="1.0" />
<text x="404.50" y="125.90" font-size="7.8" text-anchor="end" fill="#1a1a1a" stroke="#1a1a1a" >0</text>
<line x1="407.30" y1="108.72" x2="410.50" y2="108.72" stroke="#000" stroke-width="1.0" />
<text x="404.50" y="111.32" font-size="7.8" text-anchor="end" fill="#1a1a1a" stroke="#1a1a1a" >2</text>
<line x1="407.30" y1="94.15" x2="410.50" y2="94.15" stroke="#000" stroke-width="1.0" />
<text x="404.50" y="96.75" font-size="7.8" text-anchor="end" fill="#1a1a1a" stroke="#1a1a1a" >4</text>
<line x1="407.30" y1="79.58" x2="410.50" y2="79.58" stroke="#000" stroke-width="1.0" />
<text x="404.50" y="82.17" font-size="7.8" text-anchor="end" fill="#1a1a1a" stroke="#1a1a1a" >6</text>
<line x1="407.30" y1="65.00" x2="410.50" y2="65.00" stroke="#000" stroke-width="1.0" />
<text x="404.50" y="67.60" font-size="7.8" text-anchor="end" fill="#1a1a1a" stroke="#1a1a1a" >8</text>
<line x1="429.10" y1="123.30" x2="429.10" y2="126.30" stroke="#000" stroke-width="1.0" />
<line x1="471.30" y1="123.30" x2="471.30" y2="126.30" stroke="#000" stroke-width="1.0" />
<text x="429.30" y="136.50" font-size="8.4" text-anchor="middle" textLength="15.60" lengthAdjust="spacingAndGlyphs" fill="#1a1a1a" stroke="#1a1a1a" >Skin</text>
<text x="471.20" y="136.50" font-size="8.4" text-anchor="middle" textLength="17.10" lengthAdjust="spacingAndGlyphs" fill="#1a1a1a" stroke="#1a1a1a" >Liver</text>
<line x1="422.10" y1="97.80" x2="422.10" y2="94.25" stroke="#111" stroke-width="1.0" />
<line x1="419.50" y1="94.25" x2="424.70" y2="94.25" stroke="#111" stroke-width="1.2" />
<rect x="417.30" y="97.80" width="9.60" height="25.50" fill="#c2102e"/>
<line x1="435.80" y1="110.00" x2="435.80" y2="106.75" stroke="#111" stroke-width="1.0" />
<line x1="433.20" y1="106.75" x2="438.40" y2="106.75" stroke="#111" stroke-width="1.2" />
<rect x="431.10" y="110.00" width="9.40" height="13.30" fill="#2d4787"/>
<line x1="464.50" y1="88.80" x2="464.50" y2="81.40" stroke="#111" stroke-width="1.0" />
<line x1="461.90" y1="81.40" x2="467.10" y2="81.40" stroke="#111" stroke-width="1.2" />
<rect x="459.80" y="88.80" width="9.40" height="34.50" fill="#c2102e"/>
<line x1="477.80" y1="115.00" x2="477.80" y2="111.10" stroke="#111" stroke-width="1.0" />
<line x1="475.20" y1="111.10" x2="480.40" y2="111.10" stroke="#111" stroke-width="1.2" />
<rect x="473.10" y="115.00" width="9.40" height="8.30" fill="#2d4787"/>
<line x1="422.00" y1="89.60" x2="435.80" y2="89.60" stroke="#111" stroke-width="1.1" />
<ellipse cx="429.20" cy="83.80" rx="1.2" ry="1.05" fill="#111"/>
<line x1="463.40" y1="76.75" x2="478.75" y2="76.75" stroke="#111" stroke-width="1.1" />
<ellipse cx="469.35" cy="71.30" rx="1.2" ry="1.05" fill="#111"/>
<ellipse cx="472.85" cy="71.30" rx="1.2" ry="1.05" fill="#111"/>
<text x="395.60" y="92.30" font-size="9.9" text-anchor="middle" textLength="62.60" lengthAdjust="spacingAndGlyphs" fill="#1a1a1a" stroke="#1a1a1a" transform="rotate(-90 395.60 92.30)" >Pathology score</text>
<rect x="410.50" y="40.90" width="6.10" height="5.60" fill="#c2102e"/>
<rect x="410.50" y="52.40" width="6.10" height="5.80" fill="#2d4787"/>
<text x="419.80" y="47.00" font-size="8.1" textLength="77.40" lengthAdjust="spacingAndGlyphs" fill="#1a1a1a" stroke="#1a1a1a" >TCD-BM+CD8<tspan font-size="5" dy="-2.6">+</tspan><tspan dy="2.6"> </tspan>T, Con</text>
<text x="419.80" y="58.30" font-size="8.1" textLength="90.60" lengthAdjust="spacingAndGlyphs" fill="#1a1a1a" stroke="#1a1a1a" >TCD-BM+CD8<tspan font-size="5" dy="-2.6">+</tspan><tspan dy="2.6"> </tspan>T, AUY922</text>
<line x1="410.30" y1="211.51" x2="410.30" y2="283.50" stroke="#000" stroke-width="1.1" />
<line x1="407.30" y1="283.00" x2="491.00" y2="283.00" stroke="#000" stroke-width="1.1" />
<line x1="407.10" y1="283.00" x2="410.30" y2="283.00" stroke="#000" stroke-width="1.0" />
<text x="404.30" y="285.60" font-size="7.8" text-anchor="end" fill="#1a1a1a" stroke="#1a1a1a" >0</text>
<line x1="407.10" y1="259.77" x2="410.30" y2="259.77" stroke="#000" stroke-width="1.0" />
<text x="404.30" y="262.37" font-size="7.8" text-anchor="end" fill="#1a1a1a" stroke="#1a1a1a" >2</text>
<line x1="407.10" y1="236.54" x2="410.30" y2="236.54" stroke="#000" stroke-width="1.0" />
<text x="404.30" y="239.14" font-size="7.8" text-anchor="end" fill="#1a1a1a" stroke="#1a1a1a" >4</text>
<line x1="407.10" y1="213.31" x2="410.30" y2="213.31" stroke="#000" stroke-width="1.0" />
<text x="404.30" y="215.91" font-size="7.8" text-anchor="end" fill="#1a1a1a" stroke="#1a1a1a" >6</text>
<line x1="430.00" y1="283.00" x2="430.00" y2="286.00" stroke="#000" stroke-width="1.0" />
<line x1="471.10" y1="283.00" x2="471.10" y2="286.00" stroke="#000" stroke-width="1.0" />
<text x="429.30" y="296.20" font-size="8.4" text-anchor="middle" textLength="15.60" lengthAdjust="spacingAndGlyphs" fill="#1a1a1a" stroke="#1a1a1a" >Skin</text>
<text x="471.20" y="296.20" font-size="8.4" text-anchor="middle" textLength="17.10" lengthAdjust="spacingAndGlyphs" fill="#1a1a1a" stroke="#1a1a1a" >Liver</text>
<line x1="422.80" y1="245.30" x2="422.80" y2="239.80" stroke="#111" stroke-width="1.0" />
<line x1="420.20" y1="239.80" x2="425.40" y2="239.80" stroke="#111" stroke-width="1.2" />
<rect x="418.10" y="245.30" width="9.40" height="37.70" fill="#c2102e"/>
<line x1="436.57" y1="261.40" x2="436.57" y2="257.80" stroke="#111" stroke-width="1.0" />
<line x1="433.97" y1="257.80" x2="439.18" y2="257.80" stroke="#111" stroke-width="1.2" />
<rect x="431.90" y="261.40" width="9.35" height="21.60" fill="#2d4787"/>
<line x1="464.25" y1="227.00" x2="464.25" y2="216.70" stroke="#111" stroke-width="1.0" />
<line x1="461.65" y1="216.70" x2="466.85" y2="216.70" stroke="#111" stroke-width="1.2" />
<rect x="459.50" y="227.00" width="9.50" height="56.00" fill="#c2102e"/>
<line x1="478.25" y1="265.70" x2="478.25" y2="259.70" stroke="#111" stroke-width="1.0" />
<line x1="475.65" y1="259.70" x2="480.85" y2="259.70" stroke="#111" stroke-width="1.2" />
<rect x="473.40" y="265.70" width="9.70" height="17.30" fill="#2d4787"/>
<line x1="422.00" y1="234.70" x2="437.30" y2="234.70" stroke="#111" stroke-width="1.1" />
<ellipse cx="430.30" cy="228.90" rx="1.2" ry="1.05" fill="#111"/>
<line x1="463.40" y1="213.20" x2="479.00" y2="213.20" stroke="#111" stroke-width="1.1" />
<ellipse cx="469.75" cy="207.80" rx="1.2" ry="1.05" fill="#111"/>
<ellipse cx="473.25" cy="207.80" rx="1.2" ry="1.05" fill="#111"/>
<text x="395.60" y="246.70" font-size="9.9" text-anchor="middle" textLength="62.60" lengthAdjust="spacingAndGlyphs" fill="#1a1a1a" stroke="#1a1a1a" transform="rotate(-90 395.60 246.70)" >Pathology score</text>
<rect x="410.50" y="182.90" width="6.10" height="5.60" fill="#c2102e"/>
<rect x="410.50" y="194.40" width="6.10" height="5.80" fill="#2d4787"/>
<text x="419.80" y="189.00" font-size="8.1" textLength="77.40" lengthAdjust="spacingAndGlyphs" fill="#1a1a1a" stroke="#1a1a1a" >TCD-BM+CD8<tspan font-size="5" dy="-2.6">+</tspan><tspan dy="2.6"> </tspan>T, Con</text>
<text x="419.80" y="200.30" font-size="8.1" textLength="90.60" lengthAdjust="spacingAndGlyphs" fill="#1a1a1a" stroke="#1a1a1a" >TCD-BM+CD8<tspan font-size="5" dy="-2.6">+</tspan><tspan dy="2.6"> </tspan>T, AUY922</text>
<text x="246.00" y="23.50" font-size="8.4" textLength="15.90" lengthAdjust="spacingAndGlyphs" fill="#1a1a1a" stroke="#1a1a1a" >Skin</text>
<text x="325.50" y="23.50" font-size="8.4" textLength="17.70" lengthAdjust="spacingAndGlyphs" fill="#1a1a1a" stroke="#1a1a1a" >Liver</text>
<text x="195.70" y="62.50" font-size="8.4" textLength="14.50" lengthAdjust="spacingAndGlyphs" fill="#1a1a1a" stroke="#1a1a1a" >Con</text>
<text x="180.40" y="122.70" font-size="8.4" textLength="30.80" lengthAdjust="spacingAndGlyphs" fill="#1a1a1a" stroke="#1a1a1a" >AUY922</text>
<text x="246.20" y="180.50" font-size="8.4" textLength="15.00" lengthAdjust="spacingAndGlyphs" fill="#1a1a1a" stroke="#1a1a1a" >Skin</text>
<text x="325.00" y="180.50" font-size="8.4" textLength="17.50" lengthAdjust="spacingAndGlyphs" fill="#1a1a1a" stroke="#1a1a1a" >Liver</text>
<text x="195.50" y="216.70" font-size="8.4" textLength="14.70" lengthAdjust="spacingAndGlyphs" fill="#1a1a1a" stroke="#1a1a1a" >Con</text>
<text x="180.00" y="279.80" font-size="8.4" textLength="30.60" lengthAdjust="spacingAndGlyphs" fill="#1a1a1a" stroke="#1a1a1a" >AUY922</text>
<clipPath id="cB1"><path d="M230.8,28.3 L292.7,28.3 L292.7,86.9 L227.2,86.9 Z"/></clipPath>
<clipPath id="cB1t0"><path d="M225.0,28.0 L264.0,28.0 L261.0,88.0 L225.0,88.0 Z"/></clipPath>
<clipPath id="cB1t1"><path d="M267.0,28.0 L296.0,28.0 L296.0,88.0 L264.0,88.0 Z"/></clipPath>
<g clip-path="url(#cB1)">
<rect x="225" y="28" width="70" height="60" fill="rgb(178,142,203)"/>
<g filter="url(#bl1)">
<ellipse cx="242" cy="38" rx="6" ry="6" fill="rgb(198,164,212)"/>
<ellipse cx="240" cy="66" rx="6" ry="5" fill="rgb(198,160,210)"/>
<ellipse cx="244" cy="53" rx="5" ry="6" fill="rgb(190,152,206)"/>
<ellipse cx="243" cy="80" rx="5" ry="5" fill="rgb(190,154,206)"/>
<path d="M236.5,47 C240,45.5 246,46 251,48.5" stroke="rgb(150,112,190)" stroke-width="1.6" fill="none"/>
</g>
<path d="M254.0,28.0 L266.0,28.0 L261.0,88.0 L252.0,88.0 Z" fill="rgb(158,112,178)" filter="url(#bl1)"/>
<path d="M267.0,28.0 L296.0,28.0 L296.0,88.0 L262.5,88.0 Z" fill="rgb(178,112,142)"/>
<rect x="290.6" y="28" width="3" height="60" fill="rgb(162,112,176)" filter="url(#bl05)"/>
<path d="M230.8,28.3 L237.0,28.3 L238.5,31.0 L237.5,36.0 L236.0,42.0 L235.6,50.0 L236.0,56.0 L234.6,62.0 L234.0,70.0 L233.8,80.0 L233.5,86.9 L227.2,86.9 Z" fill="rgb(116,90,186)" filter="url(#bl05)"/>
<g clip-path="url(#cB1t0)">
<rect x="170" y="20" width="210" height="295" filter="url(#dk)" opacity="0.7"/>
<rect x="170" y="20" width="210" height="295" filter="url(#lt)" opacity="0.55"/>
</g>
<g clip-path="url(#cB1t1)">
<rect x="170" y="20" width="210" height="295" filter="url(#dkp)" opacity="0.45"/>
<rect x="170" y="20" width="210" height="295" filter="url(#lt)" opacity="0.35"/>
</g>
<ellipse cx="284.7" cy="75.4" rx="1.4" ry="2.6" fill="rgb(105,62,128)" filter="url(#bl05)"/>
<path d="M259,28.5 C258,33 256.6,37 257.2,41 C257.6,43 257,45 256.5,47" stroke="rgb(228,218,240)" stroke-width="1.2" fill="none" filter="url(#bl05)"/>
<path d="M265.6,28 L268.9,28 C268,40 266.5,52 265.6,62 C265,72 264.6,80 264.4,88 L260.4,88 C261,78 261.6,70 262.4,62 C263.4,50 264.8,40 265.6,28 Z" fill="rgb(246,241,248)" filter="url(#bl05)"/>
<path d="M256,72 C255.2,77 254.6,81 254.4,86" stroke="rgb(224,214,238)" stroke-width="1.1" fill="none" filter="url(#bl05)"/>
</g>
<clipPath id="cB2"><path d="M213.6,89.6 L292.6,89.6 L292.6,148.5 L213.6,148.5 Z"/></clipPath>
<clipPath id="cB2t0"><path d="M235.4,89.6 L234.0,93.0 L234.4,95.9 L231.9,98.7 L229.0,100.9 L226.5,102.3 L222.6,102.6 L220.8,103.7 L221.9,105.5 L223.3,107.3 L222.9,109.4 L223.6,111.6 L221.9,113.7 L222.9,115.5 L224.7,118.0 L226.1,119.5 L225.4,122.8 L227.3,125.9 L225.4,129.7 L223.1,131.2 L223.9,133.1 L226.5,134.2 L223.1,136.5 L219.7,137.6 L219.3,138.8 L221.6,139.5 L221.6,141.8 L222.4,144.9 L223.1,147.9 L223.5,149.0 L250.0,149.0 L257.0,89.6 Z"/></clipPath>
<clipPath id="cB2t1"><path d="M280.0,89.6 L294.0,89.6 L294.0,149.0 L254.0,149.0 Z"/></clipPath>
<g clip-path="url(#cB2)">
<rect x="213" y="89" width="80" height="60" fill="rgb(218,210,237)"/>
<path d="M235.4,89.6 L234.0,93.0 L234.4,95.9 L231.9,98.7 L229.0,100.9 L226.5,102.3 L222.6,102.6 L220.8,103.7 L221.9,105.5 L223.3,107.3 L222.9,109.4 L223.6,111.6 L221.9,113.7 L222.9,115.5 L224.7,118.0 L226.1,119.5 L225.4,122.8 L227.3,125.9 L225.4,129.7 L223.1,131.2 L223.9,133.1 L226.5,134.2 L223.1,136.5 L219.7,137.6 L219.3,138.8 L221.6,139.5 L221.6,141.8 L222.4,144.9 L223.1,147.9 L223.5,149.0 L262.0,149.0 L292.0,89.6 Z" fill="rgb(194,166,214)"/>
<g filter="url(#bl2)"><ellipse cx="232" cy="120" rx="6" ry="22" fill="rgb(182,150,206)"/><ellipse cx="245" cy="118" rx="5" ry="14" fill="rgb(200,172,214)"/></g>
<path d="M258.5,89.6 L280.0,89.6 L254.0,149.0 L248.0,149.0 L250.0,130.0 L254.0,110.0 Z" fill="rgb(226,216,240)" filter="url(#bl05)"/>
<path d="M280.0,89.6 L287.5,89.6 L259.5,149.0 L254.0,149.0 Z" fill="rgb(172,126,178)" filter="url(#bl05)"/>
<path d="M287.5,89.6 L289.0,89.6 L261.0,149.0 L259.5,149.0 Z" fill="rgb(128,84,150)" filter="url(#bl05)"/>
<path d="M289.0,89.6 L292.4,89.6 L264.0,149.0 L261.0,149.0 Z" fill="rgb(222,192,214)" filter="url(#bl05)"/>
<path d="M292.4,89.6 L294.0,89.6 L294.0,149.0 L264.0,149.0 Z" fill="rgb(168,98,122)" filter="url(#bl05)"/>
<g clip-path="url(#cB2t0)">
<rect x="170" y="20" width="210" height="295" filter="url(#dkp)" opacity="0.7"/>
<rect x="170" y="20" width="210" height="295" filter="url(#lt)" opacity="0.5"/>
</g>
<g clip-path="url(#cB2t1)">
<rect x="170" y="20" width="210" height="295" filter="url(#dkp)" opacity="0.5"/>
<rect x="170" y="20" width="210" height="295" filter="url(#lt)" opacity="0.4"/>
</g>
<clipPath id="fmB2"><path d="M258.5,89.6 L280.0,89.6 L254.0,149.0 L248.0,149.0 L250.0,130.0 L254.0,110.0 Z"/></clipPath><path d="M243.2,90.3a3.0,3.0 0 1,0 6.0,0a3.0,3.0 0 1,0 -6.0,0 M249.4,90.3a3.1,3.1 0 1,0 6.1,0a3.1,3.1 0 1,0 -6.1,0 M253.9,90.0a3.1,3.1 0 1,0 6.1,0a3.1,3.1 0 1,0 -6.1,0 M261.0,90.6a2.7,2.7 0 1,0 5.3,0a2.7,2.7 0 1,0 -5.3,0 M266.3,89.6a2.9,2.9 0 1,0 5.7,0a2.9,2.9 0 1,0 -5.7,0 M272.4,89.3a2.7,2.7 0 1,0 5.4,0a2.7,2.7 0 1,0 -5.4,0 M277.5,90.6a3.0,3.0 0 1,0 6.0,0a3.0,3.0 0 1,0 -6.0,0 M245.8,95.6a2.7,2.7 0 1,0 5.3,0a2.7,2.7 0 1,0 -5.3,0 M252.3,94.7a2.6,2.6 0 1,0 5.2,0a2.6,2.6 0 1,0 -5.2,0 M258.3,94.8a2.7,2.7 0 1,0 5.4,0a2.7,2.7 0 1,0 -5.4,0 M264.2,95.7a2.7,2.7 0 1,0 5.5,0a2.7,2.7 0 1,0 -5.5,0 M269.8,95.3a2.9,2.9 0 1,0 5.9,0a2.9,2.9 0 1,0 -5.9,0 M274.5,95.8a2.9,2.9 0 1,0 5.9,0a2.9,2.9 0 1,0 -5.9,0 M243.9,101.0a2.7,2.7 0 1,0 5.5,0a2.7,2.7 0 1,0 -5.5,0 M248.9,99.9a2.7,2.7 0 1,0 5.3,0a2.7,2.7 0 1,0 -5.3,0 M254.1,100.1a2.9,2.9 0 1,0 5.8,0a2.9,2.9 0 1,0 -5.8,0 M259.9,100.6a2.8,2.8 0 1,0 5.5,0a2.8,2.8 0 1,0 -5.5,0 M266.1,100.8a2.8,2.8 0 1,0 5.7,0a2.8,2.8 0 1,0 -5.7,0 M271.8,100.4a3.0,3.0 0 1,0 5.9,0a3.0,3.0 0 1,0 -5.9,0 M277.6,101.1a2.6,2.6 0 1,0 5.2,0a2.6,2.6 0 1,0 -5.2,0 M246.6,106.1a2.6,2.6 0 1,0 5.2,0a2.6,2.6 0 1,0 -5.2,0 M252.2,105.4a2.9,2.9 0 1,0 5.8,0a2.9,2.9 0 1,0 -5.8,0 M257.1,105.0a2.7,2.7 0 1,0 5.4,0a2.7,2.7 0 1,0 -5.4,0 M264.0,105.2a3.0,3.0 0 1,0 6.0,0a3.0,3.0 0 1,0 -6.0,0 M269.9,106.2a2.8,2.8 0 1,0 5.5,0a2.8,2.8 0 1,0 -5.5,0 M274.7,105.6a3.0,3.0 0 1,0 6.0,0a3.0,3.0 0 1,0 -6.0,0 M242.5,111.1a3.0,3.0 0 1,0 6.0,0a3.0,3.0 0 1,0 -6.0,0 M249.2,110.2a3.1,3.1 0 1,0 6.1,0a3.1,3.1 0 1,0 -6.1,0 M254.1,110.6a2.9,2.9 0 1,0 5.8,0a2.9,2.9 0 1,0 -5.8,0 M260.9,110.6a3.1,3.1 0 1,0 6.1,0a3.1,3.1 0 1,0 -6.1,0 M266.5,110.5a2.8,2.8 0 1,0 5.5,0a2.8,2.8 0 1,0 -5.5,0 M271.9,110.2a2.7,2.7 0 1,0 5.3,0a2.7,2.7 0 1,0 -5.3,0 M278.4,111.5a2.7,2.7 0 1,0 5.4,0a2.7,2.7 0 1,0 -5.4,0 M245.4,116.7a2.9,2.9 0 1,0 5.7,0a2.9,2.9 0 1,0 -5.7,0 M251.7,115.6a2.9,2.9 0 1,0 5.8,0a2.9,2.9 0 1,0 -5.8,0 M258.1,115.9a2.8,2.8 0 1,0 5.6,0a2.8,2.8 0 1,0 -5.6,0 M263.1,116.6a2.6,2.6 0 1,0 5.2,0a2.6,2.6 0 1,0 -5.2,0 M269.4,116.5a2.7,2.7 0 1,0 5.3,0a2.7,2.7 0 1,0 -5.3,0 M275.3,116.6a2.9,2.9 0 1,0 5.8,0a2.9,2.9 0 1,0 -5.8,0 M243.6,120.6a2.8,2.8 0 1,0 5.6,0a2.8,2.8 0 1,0 -5.6,0 M248.6,121.7a2.7,2.7 0 1,0 5.5,0a2.7,2.7 0 1,0 -5.5,0 M254.5,121.9a3.0,3.0 0 1,0 6.1,0a3.0,3.0 0 1,0 -6.1,0 M261.2,121.1a2.8,2.8 0 1,0 5.7,0a2.8,2.8 0 1,0 -5.7,0 M266.8,121.2a2.7,2.7 0 1,0 5.5,0a2.7,2.7 0 1,0 -5.5,0 M272.1,120.7a2.8,2.8 0 1,0 5.6,0a2.8,2.8 0 1,0 -5.6,0 M278.6,121.8a2.9,2.9 0 1,0 5.8,0a2.9,2.9 0 1,0 -5.8,0 M246.3,126.2a2.6,2.6 0 1,0 5.3,0a2.6,2.6 0 1,0 -5.3,0 M251.3,126.8a3.0,3.0 0 1,0 6.1,0a3.0,3.0 0 1,0 -6.1,0 M257.3,126.8a3.0,3.0 0 1,0 6.0,0a3.0,3.0 0 1,0 -6.0,0 M263.6,126.6a3.0,3.0 0 1,0 6.0,0a3.0,3.0 0 1,0 -6.0,0 M269.2,126.7a2.7,2.7 0 1,0 5.5,0a2.7,2.7 0 1,0 -5.5,0 M274.9,126.8a2.9,2.9 0 1,0 5.9,0a2.9,2.9 0 1,0 -5.9,0 M242.8,132.2a2.9,2.9 0 1,0 5.8,0a2.9,2.9 0 1,0 -5.8,0 M249.0,130.9a2.9,2.9 0 1,0 5.7,0a2.9,2.9 0 1,0 -5.7,0 M254.4,131.8a2.8,2.8 0 1,0 5.7,0a2.8,2.8 0 1,0 -5.7,0 M260.8,131.8a3.0,3.0 0 1,0 6.0,0a3.0,3.0 0 1,0 -6.0,0 M266.0,131.8a3.0,3.0 0 1,0 5.9,0a3.0,3.0 0 1,0 -5.9,0 M272.4,131.4a3.0,3.0 0 1,0 6.0,0a3.0,3.0 0 1,0 -6.0,0 M278.2,131.9a3.1,3.1 0 1,0 6.2,0a3.1,3.1 0 1,0 -6.2,0 M246.7,136.8a2.9,2.9 0 1,0 5.7,0a2.9,2.9 0 1,0 -5.7,0 M251.2,137.3a3.1,3.1 0 1,0 6.1,0a3.1,3.1 0 1,0 -6.1,0 M257.5,137.1a3.0,3.0 0 1,0 5.9,0a3.0,3.0 0 1,0 -5.9,0 M263.6,136.3a3.0,3.0 0 1,0 6.0,0a3.0,3.0 0 1,0 -6.0,0 M269.4,137.0a2.8,2.8 0 1,0 5.6,0a2.8,2.8 0 1,0 -5.6,0 M275.2,137.2a2.9,2.9 0 1,0 5.8,0a2.9,2.9 0 1,0 -5.8,0 M243.6,141.3a2.7,2.7 0 1,0 5.4,0a2.7,2.7 0 1,0 -5.4,0 M249.0,142.2a2.7,2.7 0 1,0 5.4,0a2.7,2.7 0 1,0 -5.4,0 M255.2,142.2a2.6,2.6 0 1,0 5.2,0a2.6,2.6 0 1,0 -5.2,0 M260.7,141.6a2.6,2.6 0 1,0 5.3,0a2.6,2.6 0 1,0 -5.3,0 M266.0,141.7a2.7,2.7 0 1,0 5.4,0a2.7,2.7 0 1,0 -5.4,0 M271.7,141.3a2.8,2.8 0 1,0 5.7,0a2.8,2.8 0 1,0 -5.7,0 M277.7,142.2a2.9,2.9 0 1,0 5.8,0a2.9,2.9 0 1,0 -5.8,0 M245.9,147.8a2.6,2.6 0 1,0 5.2,0a2.6,2.6 0 1,0 -5.2,0 M251.8,146.9a2.8,2.8 0 1,0 5.6,0a2.8,2.8 0 1,0 -5.6,0 M257.2,147.7a2.8,2.8 0 1,0 5.6,0a2.8,2.8 0 1,0 -5.6,0 M263.0,147.4a2.6,2.6 0 1,0 5.3,0a2.6,2.6 0 1,0 -5.3,0 M269.3,147.0a2.9,2.9 0 1,0 5.8,0a2.9,2.9 0 1,0 -5.8,0 M275.7,147.6a2.8,2.8 0 1,0 5.6,0a2.8,2.8 0 1,0 -5.6,0" fill="none" stroke="rgb(176,154,210)" stroke-width="0.6" clip-path="url(#fmB2)"/>
<path d="M235.4,89.6 L234,93 L234.4,95.9 L231.9,98.7 L229,100.9 L226.5,102.3 L222.6,102.6 L220.8,103.7 L221.9,105.5 L223.3,107.3 L222.9,109.4 L223.6,111.6 L221.9,113.7 L222.9,115.5 L224.7,118 L226.1,119.5 L225.4,122.8 L227.3,125.9 L225.4,129.7 L223.1,131.2 L223.9,133.1 L226.5,134.2 L223.1,136.5 L219.7,137.6 L219.3,138.8 L221.6,139.5 L221.6,141.8 L222.4,144.9 L223.1,147.9 L223.5,149" fill="none" stroke="rgb(106,76,168)" stroke-width="1.5" stroke-linejoin="round"/>
<circle cx="239" cy="98.4" r="1.9" fill="rgb(192,166,214)" stroke="rgb(100,70,158)" stroke-width="1.0"/>
<circle cx="239.8" cy="105.8" r="1.7" fill="rgb(192,166,214)" stroke="rgb(100,70,158)" stroke-width="1.0"/>
<circle cx="240.6" cy="124.8" r="2.3" fill="rgb(192,166,214)" stroke="rgb(100,70,158)" stroke-width="1.0"/>
<circle cx="230.7" cy="124" r="1.8" fill="rgb(192,166,214)" stroke="rgb(100,70,158)" stroke-width="1.0"/>
<circle cx="234" cy="133" r="1.8" fill="rgb(192,166,214)" stroke="rgb(100,70,158)" stroke-width="1.0"/>
<circle cx="237.4" cy="140.4" r="1.7" fill="rgb(192,166,214)" stroke="rgb(100,70,158)" stroke-width="1.0"/>
<circle cx="254.6" cy="97.6" r="2.1" fill="rgb(192,166,214)" stroke="rgb(100,70,158)" stroke-width="1.0"/>
<circle cx="251.3" cy="111.6" r="1.15" fill="rgb(70,45,110)"/>
<circle cx="252.6" cy="117.5" r="1.15" fill="rgb(70,45,110)"/>
<circle cx="247" cy="104" r="1.15" fill="rgb(70,45,110)"/>
</g>
<clipPath id="cB3"><path d="M294.7,28.4 L373.9,28.4 L373.9,87.0 L294.7,87.0 Z"/></clipPath>
<g clip-path="url(#cB3)">
<rect x="294" y="28" width="81" height="60" fill="rgb(137,111,171)"/>
<g filter="url(#bl3)"><ellipse cx="334" cy="60" rx="20" ry="11" fill="rgb(112,94,172)"/></g>
<rect x="170" y="20" width="210" height="295" filter="url(#dk)" opacity="1.0"/>
<rect x="170" y="20" width="210" height="295" filter="url(#lt)" opacity="1.0"/>
<path d="M332.4,56.3 C332.8,55.4 333.9,54.5 335.1,54.0 C336.3,53.5 337.9,53.0 339.7,53.1 C341.5,53.2 345.0,53.8 345.8,54.4 C346.6,55.0 345.6,55.9 344.3,56.7 C343.0,57.5 339.7,58.6 338.2,59.4 C336.7,60.2 335.9,61.1 335.1,61.7 C334.3,62.3 333.9,63.2 333.5,62.8 C333.1,62.4 333.0,60.5 332.8,59.4 C332.6,58.3 332.0,57.2 332.4,56.3 Z" fill="rgb(226,246,242)" filter="url(#bl05)"/>
<path d="M317.4,68.6 L320.5,64.4" stroke="rgb(230,240,245)" stroke-width="1.8" stroke-linecap="round" filter="url(#bl05)"/>
<ellipse cx="369" cy="47" rx="2.5" ry="4" fill="rgb(185,170,215)" filter="url(#bl1)"/>
</g>
<clipPath id="cB4"><path d="M295.1,90.2 L373.8,90.2 L373.8,148.6 L295.1,148.6 Z"/></clipPath>
<g clip-path="url(#cB4)">
<rect x="294" y="89" width="81" height="61" fill="rgb(137,111,171)"/>
<rect x="170" y="20" width="210" height="295" filter="url(#dk)" opacity="1.0"/>
<rect x="170" y="20" width="210" height="295" filter="url(#lt)" opacity="1.0"/>
<g filter="url(#bl2)"><ellipse cx="339" cy="120" rx="12" ry="8" fill="rgb(118,92,170)" transform="rotate(38 339 120)"/></g>
<path d="M331.0,112.4 C331.8,112.0 332.9,111.8 334.4,112.4 C335.8,113.0 338.0,114.7 339.7,115.9 C341.4,117.2 342.9,118.5 344.3,119.9 C345.7,121.4 347.3,123.4 347.8,124.6 C348.3,125.8 348.0,126.3 347.2,126.9 C346.4,127.5 344.8,128.3 343.2,128.0 C341.6,127.7 339.2,126.2 337.3,125.2 C335.4,124.2 332.8,122.8 331.5,121.7 C330.2,120.6 329.8,120.0 329.5,118.8 C329.2,117.6 329.2,115.8 329.5,114.7 C329.8,113.6 330.2,112.8 331.0,112.4 Z" fill="rgb(188,236,242)" filter="url(#bl05)"/>
<circle cx="337.9" cy="144.4" r="1.2" fill="rgb(220,235,245)" filter="url(#bl05)"/>
</g>
<text x="361.85" y="142.4" font-size="6.2" text-anchor="middle" fill="#f4f0f8" textLength="15.6" lengthAdjust="spacingAndGlyphs">100&#956;m</text>
<rect x="355.8" y="144.4" width="12.4" height="1.3" fill="#f4f0f8"/>
<clipPath id="cE1"><path d="M213.1,185.0 L292.6,185.0 L292.6,244.6 L213.1,244.6 Z"/></clipPath>
<g clip-path="url(#cE1)">
<defs><linearGradient id="gE1" x1="0" y1="0" x2="1" y2="0"><stop offset="0" stop-color="rgb(162,106,164)"/><stop offset="0.3" stop-color="rgb(176,126,180)"/><stop offset="0.55" stop-color="rgb(200,174,216)"/><stop offset="1" stop-color="rgb(206,186,222)"/></linearGradient></defs>
<rect x="212" y="184" width="82" height="62" fill="url(#gE1)"/>
<g filter="url(#bl3)"><ellipse cx="236" cy="196" rx="9" ry="7" fill="rgb(170,118,172)"/><ellipse cx="262" cy="222" rx="10" ry="12" fill="rgb(194,170,214)"/></g>
<rect x="170" y="20" width="210" height="295" filter="url(#dkp)" opacity="0.75"/>
<rect x="170" y="20" width="210" height="295" filter="url(#lt)" opacity="0.6"/>
<path d="M212.0,184.0 L233.4,184.0 L229.5,187.5 L226.0,191.0 L223.8,195.0 L222.2,199.0 L219.8,203.0 L217.6,207.0 L215.6,211.6 L214.6,216.0 L214.0,222.6 L213.4,228.0 L212.5,236.0 L212.0,236.0 Z" fill="rgb(204,198,232)"/>
<path d="M233.6,184.8 C229,188.5 225,192 223,197 C221,202 218,206 215.8,212 C214.6,216 214,222 213.5,230 L213.2,240" stroke="rgb(140,86,148)" stroke-width="3" fill="none" filter="url(#bl05)"/>
<g filter="url(#bl2)"><ellipse cx="245" cy="196" rx="4" ry="9" fill="rgb(135,82,150)"/></g>
<g filter="url(#bl05)"><ellipse cx="243.2" cy="194" rx="1.4" ry="2" fill="rgb(100,50,110)"/><ellipse cx="247.5" cy="201" rx="1.3" ry="2.2" fill="rgb(110,60,120)"/></g>
<g filter="url(#bl1)"><path d="M279,245 C281,239 286,235 293,233 L293,245 Z" fill="rgb(228,222,242)"/></g>
</g>
<clipPath id="cE2"><path d="M295.1,185.4 L373.8,185.4 L373.8,243.8 L295.1,243.8 Z"/></clipPath>
<g clip-path="url(#cE2)">
<rect x="294" y="184" width="81" height="61" fill="rgb(137,111,171)"/>
<g filter="url(#bl3)"><ellipse cx="338" cy="216" rx="23" ry="11" fill="rgb(118,94,172)"/></g>
<rect x="170" y="20" width="210" height="295" filter="url(#dk)" opacity="1.0"/>
<rect x="170" y="20" width="210" height="295" filter="url(#lt)" opacity="1.0"/>
<path d="M329.3,217.4 C329.5,216.4 330.3,215.1 332.2,214.5 C334.1,213.9 337.8,213.8 340.8,213.7 C343.9,213.6 348.0,213.7 350.5,214.0 C353.0,214.3 355.2,214.9 355.8,215.5 C356.4,216.1 355.5,216.5 354.3,217.4 C353.1,218.3 350.6,220.2 348.5,221.2 C346.4,222.2 344.0,223.3 341.8,223.6 C339.6,223.8 336.9,223.2 335.1,222.7 C333.3,222.1 331.8,221.2 330.8,220.3 C329.8,219.4 329.1,218.4 329.3,217.4 Z" fill="rgb(192,236,242)" filter="url(#bl05)"/>
<circle cx="324" cy="211.1" r="1.4" fill="rgb(235,240,248)" filter="url(#bl05)"/>
<circle cx="355.3" cy="207.3" r="1.4" fill="rgb(235,240,248)" filter="url(#bl05)"/>
<circle cx="324" cy="215.5" r="0.9" fill="rgb(235,240,248)" filter="url(#bl05)"/>
<circle cx="324" cy="219.3" r="0.9" fill="rgb(235,240,248)" filter="url(#bl05)"/>
<circle cx="316" cy="214" r="0.7" fill="rgb(235,240,248)" filter="url(#bl05)"/>
</g>
<clipPath id="cE3"><path d="M214.8,246.7 L292.6,246.7 L292.6,305.5 L214.8,305.5 Z"/></clipPath>
<clipPath id="cE3t0"><path d="M244.4,246.7 L241.5,250.5 L239.9,255.5 L236.8,250.2 L235.6,256.5 L233.0,258.5 L230.6,259.2 L230.2,262.5 L229.6,264.0 L225.6,264.8 L226.6,268.2 L222.0,270.0 L224.4,273.5 L221.3,277.0 L223.6,279.5 L219.9,283.5 L222.7,286.5 L226.0,289.5 L224.6,293.0 L228.5,296.5 L231.5,300.5 L233.4,305.5 L250.0,305.5 L256.0,246.7 Z"/></clipPath>
<clipPath id="cE3t1"><path d="M275.0,246.7 L294.0,246.7 L294.0,305.5 L262.0,305.5 Z"/></clipPath>
<g clip-path="url(#cE3)">
<rect x="213" y="246" width="81" height="61" fill="rgb(220,212,238)"/>
<path d="M244.4,246.7 L241.5,250.5 L239.9,255.5 L236.8,250.2 L235.6,256.5 L233.0,258.5 L230.6,259.2 L230.2,262.5 L229.6,264.0 L225.6,264.8 L226.6,268.2 L222.0,270.0 L224.4,273.5 L221.3,277.0 L223.6,279.5 L219.9,283.5 L222.7,286.5 L226.0,289.5 L224.6,293.0 L228.5,296.5 L231.5,300.5 L233.4,305.5 L262.0,305.5 L277.0,246.7 Z" fill="rgb(190,158,208)"/>
<path d="M256.0,246.7 L273.5,246.7 L267.0,272.0 L263.5,290.0 L261.5,305.5 L248.0,305.5 L250.0,288.0 L253.0,268.0 Z" fill="rgb(222,210,236)" filter="url(#bl1)"/>
<g filter="url(#bl2)"><ellipse cx="243.5" cy="268" rx="5" ry="6.5" fill="rgb(206,160,186)"/></g>
<path d="M273.0,246.7 L293.0,246.7 L293.0,305.5 L261.0,305.5 L263.5,290.0 L266.5,272.6 Z" fill="rgb(150,98,158)" filter="url(#bl05)"/>
<path d="M276.0,246.7 L293.0,246.7 L293.0,305.5 L264.0,305.5 L266.3,290.0 L269.2,272.6 Z" fill="rgb(174,98,114)" filter="url(#bl05)"/>
<g clip-path="url(#cE3t0)">
<rect x="170" y="20" width="210" height="295" filter="url(#dkp)" opacity="0.7"/>
<rect x="170" y="20" width="210" height="295" filter="url(#lt)" opacity="0.5"/>
</g>
<g clip-path="url(#cE3t1)">
<rect x="170" y="20" width="210" height="295" filter="url(#dkp)" opacity="0.5"/>
<rect x="170" y="20" width="210" height="295" filter="url(#lt)" opacity="0.4"/>
</g>
<clipPath id="fmE3"><path d="M256.0,246.7 L273.5,246.7 L267.0,272.0 L263.5,290.0 L261.5,305.5 L248.0,305.5 L250.0,288.0 L253.0,268.0 Z"/></clipPath><path d="M241.3,246.8a2.7,2.7 0 1,0 5.3,0a2.7,2.7 0 1,0 -5.3,0 M247.5,246.3a2.9,2.9 0 1,0 5.7,0a2.9,2.9 0 1,0 -5.7,0 M253.3,246.4a2.9,2.9 0 1,0 5.8,0a2.9,2.9 0 1,0 -5.8,0 M258.8,246.4a2.8,2.8 0 1,0 5.6,0a2.8,2.8 0 1,0 -5.6,0 M264.5,246.9a3.0,3.0 0 1,0 5.9,0a3.0,3.0 0 1,0 -5.9,0 M269.9,246.6a2.7,2.7 0 1,0 5.3,0a2.7,2.7 0 1,0 -5.3,0 M275.9,247.6a2.9,2.9 0 1,0 5.8,0a2.9,2.9 0 1,0 -5.8,0 M244.3,252.0a3.0,3.0 0 1,0 5.9,0a3.0,3.0 0 1,0 -5.9,0 M249.2,251.9a2.9,2.9 0 1,0 5.9,0a2.9,2.9 0 1,0 -5.9,0 M256.2,252.1a2.6,2.6 0 1,0 5.3,0a2.6,2.6 0 1,0 -5.3,0 M261.2,251.8a2.7,2.7 0 1,0 5.5,0a2.7,2.7 0 1,0 -5.5,0 M267.5,251.8a3.0,3.0 0 1,0 6.1,0a3.0,3.0 0 1,0 -6.1,0 M273.6,251.6a2.8,2.8 0 1,0 5.6,0a2.8,2.8 0 1,0 -5.6,0 M241.2,256.7a2.8,2.8 0 1,0 5.6,0a2.8,2.8 0 1,0 -5.6,0 M247.5,256.9a2.9,2.9 0 1,0 5.8,0a2.9,2.9 0 1,0 -5.8,0 M252.0,257.5a3.0,3.0 0 1,0 6.1,0a3.0,3.0 0 1,0 -6.1,0 M258.3,256.7a2.6,2.6 0 1,0 5.3,0a2.6,2.6 0 1,0 -5.3,0 M264.6,256.7a2.6,2.6 0 1,0 5.3,0a2.6,2.6 0 1,0 -5.3,0 M270.2,258.0a2.8,2.8 0 1,0 5.6,0a2.8,2.8 0 1,0 -5.6,0 M276.0,257.6a2.6,2.6 0 1,0 5.3,0a2.6,2.6 0 1,0 -5.3,0 M244.1,262.1a2.9,2.9 0 1,0 5.8,0a2.9,2.9 0 1,0 -5.8,0 M250.5,262.0a2.9,2.9 0 1,0 5.8,0a2.9,2.9 0 1,0 -5.8,0 M255.9,262.1a2.7,2.7 0 1,0 5.5,0a2.7,2.7 0 1,0 -5.5,0 M262.3,263.3a2.7,2.7 0 1,0 5.3,0a2.7,2.7 0 1,0 -5.3,0 M267.7,263.2a2.7,2.7 0 1,0 5.4,0a2.7,2.7 0 1,0 -5.4,0 M273.3,262.0a2.8,2.8 0 1,0 5.6,0a2.8,2.8 0 1,0 -5.6,0 M241.3,267.9a3.0,3.0 0 1,0 6.0,0a3.0,3.0 0 1,0 -6.0,0 M246.2,267.6a3.0,3.0 0 1,0 6.1,0a3.0,3.0 0 1,0 -6.1,0 M252.9,267.7a2.8,2.8 0 1,0 5.6,0a2.8,2.8 0 1,0 -5.6,0 M259.5,267.9a2.6,2.6 0 1,0 5.2,0a2.6,2.6 0 1,0 -5.2,0 M264.8,267.6a2.8,2.8 0 1,0 5.6,0a2.8,2.8 0 1,0 -5.6,0 M269.8,267.7a2.8,2.8 0 1,0 5.5,0a2.8,2.8 0 1,0 -5.5,0 M275.6,268.0a2.7,2.7 0 1,0 5.3,0a2.7,2.7 0 1,0 -5.3,0 M244.3,272.3a3.0,3.0 0 1,0 6.0,0a3.0,3.0 0 1,0 -6.0,0 M250.2,273.0a3.0,3.0 0 1,0 5.9,0a3.0,3.0 0 1,0 -5.9,0 M255.3,273.3a2.8,2.8 0 1,0 5.6,0a2.8,2.8 0 1,0 -5.6,0 M261.1,273.6a2.8,2.8 0 1,0 5.6,0a2.8,2.8 0 1,0 -5.6,0 M267.1,273.5a2.8,2.8 0 1,0 5.6,0a2.8,2.8 0 1,0 -5.6,0 M273.1,272.5a3.0,3.0 0 1,0 6.0,0a3.0,3.0 0 1,0 -6.0,0 M240.6,277.6a3.1,3.1 0 1,0 6.2,0a3.1,3.1 0 1,0 -6.2,0 M246.2,278.8a3.1,3.1 0 1,0 6.2,0a3.1,3.1 0 1,0 -6.2,0 M253.1,277.5a2.6,2.6 0 1,0 5.3,0a2.6,2.6 0 1,0 -5.3,0 M258.1,278.0a2.9,2.9 0 1,0 5.8,0a2.9,2.9 0 1,0 -5.8,0 M265.2,278.0a2.7,2.7 0 1,0 5.3,0a2.7,2.7 0 1,0 -5.3,0 M270.4,277.7a2.6,2.6 0 1,0 5.3,0a2.6,2.6 0 1,0 -5.3,0 M276.2,278.5a2.6,2.6 0 1,0 5.3,0a2.6,2.6 0 1,0 -5.3,0 M243.8,283.7a3.0,3.0 0 1,0 6.0,0a3.0,3.0 0 1,0 -6.0,0 M249.9,283.9a2.7,2.7 0 1,0 5.4,0a2.7,2.7 0 1,0 -5.4,0 M255.8,283.8a3.0,3.0 0 1,0 6.1,0a3.0,3.0 0 1,0 -6.1,0 M261.7,282.8a2.6,2.6 0 1,0 5.2,0a2.6,2.6 0 1,0 -5.2,0 M267.2,282.9a2.9,2.9 0 1,0 5.8,0a2.9,2.9 0 1,0 -5.8,0 M272.6,283.8a2.7,2.7 0 1,0 5.4,0a2.7,2.7 0 1,0 -5.4,0 M240.5,288.1a2.8,2.8 0 1,0 5.7,0a2.8,2.8 0 1,0 -5.7,0 M247.2,288.4a2.7,2.7 0 1,0 5.4,0a2.7,2.7 0 1,0 -5.4,0 M252.7,289.2a2.9,2.9 0 1,0 5.7,0a2.9,2.9 0 1,0 -5.7,0 M258.9,287.9a3.1,3.1 0 1,0 6.2,0a3.1,3.1 0 1,0 -6.2,0 M264.9,288.7a2.9,2.9 0 1,0 5.7,0a2.9,2.9 0 1,0 -5.7,0 M270.4,289.2a2.6,2.6 0 1,0 5.3,0a2.6,2.6 0 1,0 -5.3,0 M276.2,288.7a2.8,2.8 0 1,0 5.5,0a2.8,2.8 0 1,0 -5.5,0 M244.6,294.1a2.7,2.7 0 1,0 5.3,0a2.7,2.7 0 1,0 -5.3,0 M250.1,293.7a2.8,2.8 0 1,0 5.7,0a2.8,2.8 0 1,0 -5.7,0 M255.8,293.2a2.9,2.9 0 1,0 5.8,0a2.9,2.9 0 1,0 -5.8,0 M261.4,294.3a2.7,2.7 0 1,0 5.4,0a2.7,2.7 0 1,0 -5.4,0 M267.6,294.1a2.9,2.9 0 1,0 5.8,0a2.9,2.9 0 1,0 -5.8,0 M273.5,293.2a2.9,2.9 0 1,0 5.8,0a2.9,2.9 0 1,0 -5.8,0 M241.4,299.2a2.8,2.8 0 1,0 5.6,0a2.8,2.8 0 1,0 -5.6,0 M246.3,298.6a2.9,2.9 0 1,0 5.8,0a2.9,2.9 0 1,0 -5.8,0 M252.4,298.4a2.8,2.8 0 1,0 5.6,0a2.8,2.8 0 1,0 -5.6,0 M258.7,299.0a2.6,2.6 0 1,0 5.2,0a2.6,2.6 0 1,0 -5.2,0 M264.6,298.8a3.0,3.0 0 1,0 6.0,0a3.0,3.0 0 1,0 -6.0,0 M269.4,299.6a2.9,2.9 0 1,0 5.8,0a2.9,2.9 0 1,0 -5.8,0 M276.5,299.7a3.0,3.0 0 1,0 6.0,0a3.0,3.0 0 1,0 -6.0,0 M243.6,304.0a2.7,2.7 0 1,0 5.4,0a2.7,2.7 0 1,0 -5.4,0 M250.4,303.8a2.7,2.7 0 1,0 5.4,0a2.7,2.7 0 1,0 -5.4,0 M254.9,303.7a3.1,3.1 0 1,0 6.1,0a3.1,3.1 0 1,0 -6.1,0 M262.0,304.0a3.0,3.0 0 1,0 5.9,0a3.0,3.0 0 1,0 -5.9,0 M267.3,304.2a2.8,2.8 0 1,0 5.6,0a2.8,2.8 0 1,0 -5.6,0 M273.4,303.8a2.7,2.7 0 1,0 5.5,0a2.7,2.7 0 1,0 -5.5,0" fill="none" stroke="rgb(182,160,212)" stroke-width="0.6" clip-path="url(#fmE3)"/>
<path d="M244.4,246.7 L241.5,250.5 L239.9,255.5 L236.8,250.2 L235.6,256.5 L233,258.5 L230.6,259.2 L230.2,262.5 L229.6,264 L225.6,264.8 L226.6,268.2 L222,270 L224.4,273.5 L221.3,277 L223.6,279.5 L219.9,283.5 L222.7,286.5 L226,289.5 L224.6,293 L228.5,296.5 L231.5,300.5 L233.4,305.5" fill="none" stroke="rgb(108,76,166)" stroke-width="1.5" stroke-linejoin="round"/>
<circle cx="236" cy="280" r="2.4" fill="rgb(190,160,210)" stroke="rgb(100,68,156)" stroke-width="1.1"/>
<circle cx="231.7" cy="266.5" r="1.6" fill="rgb(190,160,210)" stroke="rgb(100,68,156)" stroke-width="1.1"/>
<circle cx="229.9" cy="287.5" r="1.6" fill="rgb(190,160,210)" stroke="rgb(100,68,156)" stroke-width="1.1"/>
<circle cx="249.4" cy="261.5" r="1.9" fill="rgb(190,160,210)" stroke="rgb(100,68,156)" stroke-width="1.1"/>
<circle cx="258" cy="253" r="1.7" fill="rgb(190,160,210)" stroke="rgb(100,68,156)" stroke-width="1.1"/>
<circle cx="240" cy="293" r="1.8" fill="rgb(190,160,210)" stroke="rgb(100,68,156)" stroke-width="1.1"/>
<circle cx="247" cy="256" r="1.4" fill="rgb(190,160,210)" stroke="rgb(100,68,156)" stroke-width="1.1"/>
<circle cx="252.5" cy="259" r="1.0" fill="rgb(80,50,115)"/>
<circle cx="254" cy="264" r="1.0" fill="rgb(80,50,115)"/>
<circle cx="251" cy="270" r="1.0" fill="rgb(80,50,115)"/>
<path d="M282,251 C280.5,262 279,275 277.7,287 C276.6,295 275.6,301 275,306" stroke="rgb(205,158,192)" stroke-width="1.8" fill="none" filter="url(#bl05)"/>
<path d="M290.6,262 C289,272 287,283 285,292 C284,298 283.5,302 283,306" stroke="rgb(205,158,190)" stroke-width="1.4" fill="none" filter="url(#bl05)"/>
<ellipse cx="282.5" cy="253.5" rx="1.4" ry="2.2" fill="rgb(232,210,225)" filter="url(#bl05)"/>
</g>
<clipPath id="cE4"><path d="M295.1,247.1 L373.4,247.1 L373.4,306.0 L295.1,306.0 Z"/></clipPath>
<g clip-path="url(#cE4)">
<rect x="294" y="246" width="81" height="61" fill="rgb(137,111,171)"/>
<rect x="170" y="20" width="210" height="295" filter="url(#dk)" opacity="1.0"/>
<rect x="170" y="20" width="210" height="295" filter="url(#lt)" opacity="1.0"/>
<g filter="url(#bl2)"><ellipse cx="333" cy="275.5" rx="16" ry="7" fill="rgb(126,100,172)" transform="rotate(10 333 275.5)"/></g>
<path d="M318.8,273.3 C319.1,272.3 320.0,271.4 321.3,270.8 C322.6,270.2 324.3,269.6 326.4,269.9 C328.5,270.2 331.3,271.8 334.0,272.5 C336.7,273.2 340.4,273.6 342.5,274.1 C344.6,274.7 345.9,275.1 346.7,275.8 C347.5,276.5 347.9,277.7 347.5,278.4 C347.1,279.1 345.8,279.6 344.1,280.1 C342.4,280.6 339.6,281.2 337.4,281.3 C335.1,281.4 332.9,281.0 330.6,280.6 C328.3,280.2 325.6,279.5 323.8,278.9 C322.0,278.2 320.4,277.6 319.6,276.7 C318.8,275.8 318.5,274.3 318.8,273.3 Z" fill="rgb(186,228,238)" filter="url(#bl05)"/>
<path d="M344,306.5 C345,303 348,301 352,300.5 C355,300.5 356,303 355,306.5 Z" fill="rgb(190,215,238)" filter="url(#bl1)"/>
<ellipse cx="368.7" cy="263.2" rx="2.5" ry="3" fill="rgb(180,175,220)" filter="url(#bl1)"/>
<ellipse cx="344" cy="260.6" rx="1.8" ry="1.5" fill="rgb(200,200,230)" filter="url(#bl1)"/>
</g>
<text x="361.85" y="296.9" font-size="6.2" text-anchor="middle" fill="#f4f0f8" textLength="15.6" lengthAdjust="spacingAndGlyphs">100&#956;m</text>
<rect x="355.2" y="300" width="12.3" height="1.4" fill="#f4f0f8"/>
<rect x="0.5" y="0.5" width="518.7" height="446.5" fill="none" stroke="#000" stroke-width="1"/>
<rect x="518.5" y="0" width="1.5" height="448" fill="#000"/>
<rect x="0" y="446" width="520" height="2" fill="#000"/>
</svg>
</body></html>
